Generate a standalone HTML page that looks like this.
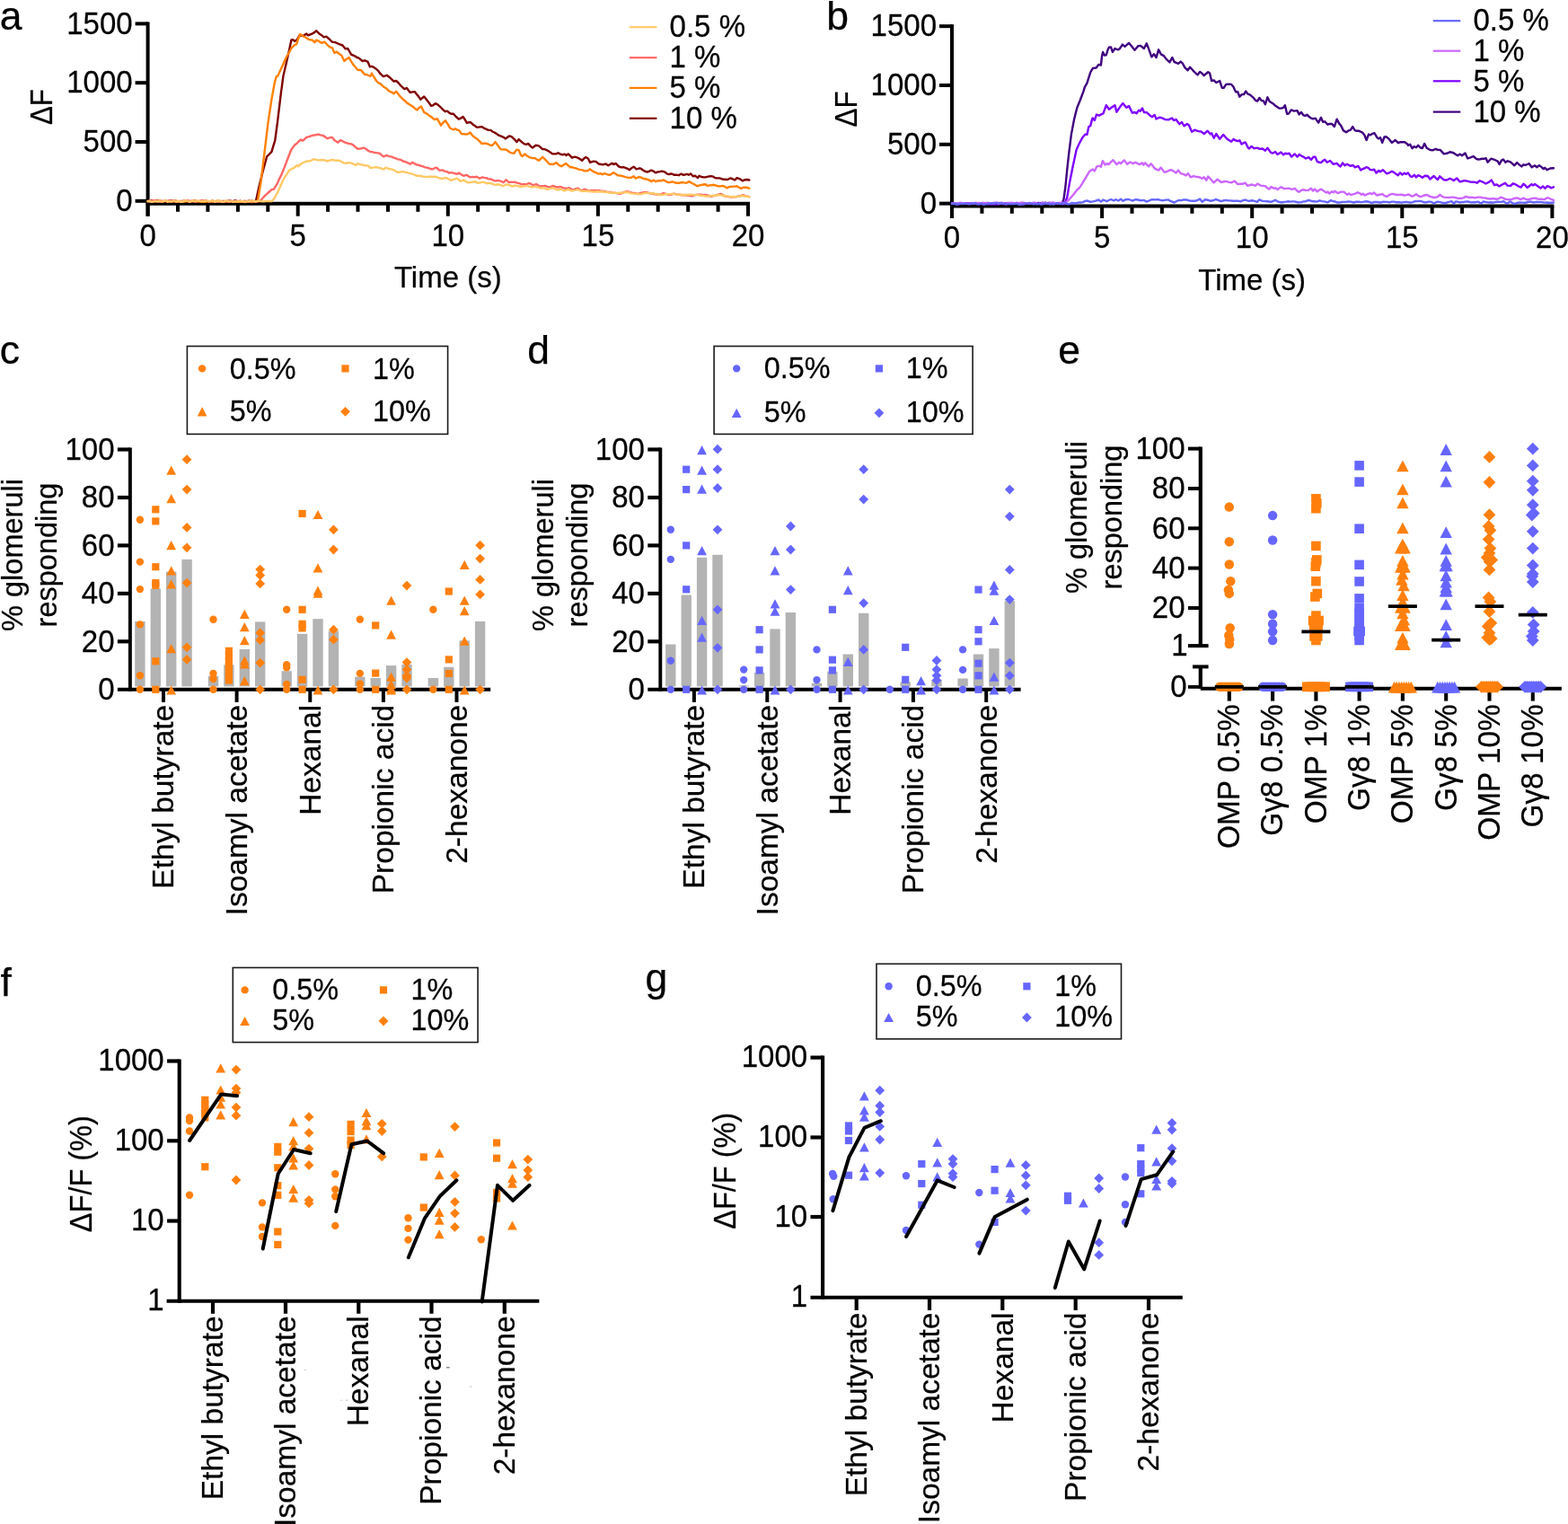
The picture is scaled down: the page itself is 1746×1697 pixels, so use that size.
<!DOCTYPE html>
<html lang="en">
<head>
<meta charset="utf-8">
<title>Odor-evoked glomerular responses</title>
<style>
html,body{margin:0;padding:0;background:#fff;}
body{width:1746px;height:1697px;overflow:hidden;}
svg{display:block;}
svg text{font-family:'Liberation Sans', sans-serif;fill:#000;stroke:#000;stroke-width:0.25px;stroke-linejoin:round;}
</style>
</head>
<body>
<svg width="1746" height="1697" viewBox="0 0 1746 1697" role="img" aria-label="Figure panels a to g: odor-evoked responses">
<rect width="1746" height="1697" fill="#fff"/>
<line x1="164.6" y1="24.4" x2="164.6" y2="240.7" stroke="#000" stroke-width="4" stroke-linecap="butt"/>
<line x1="162.6" y1="226.8" x2="835" y2="226.8" stroke="#000" stroke-width="4" stroke-linecap="butt"/>
<line x1="150.6" y1="223.8" x2="164.6" y2="223.8" stroke="#000" stroke-width="4" stroke-linecap="butt"/>
<text transform="translate(147.6 235) scale(1 1.05)" font-size="33" text-anchor="end">0</text>
<line x1="150.6" y1="158" x2="164.6" y2="158" stroke="#000" stroke-width="4" stroke-linecap="butt"/>
<text transform="translate(147.6 169.2) scale(1 1.05)" font-size="33" text-anchor="end">500</text>
<line x1="150.6" y1="92.2" x2="164.6" y2="92.2" stroke="#000" stroke-width="4" stroke-linecap="butt"/>
<text transform="translate(147.6 103.4) scale(1 1.05)" font-size="33" text-anchor="end">1000</text>
<line x1="150.6" y1="26.4" x2="164.6" y2="26.4" stroke="#000" stroke-width="4" stroke-linecap="butt"/>
<text transform="translate(147.6 37.6) scale(1 1.05)" font-size="33" text-anchor="end">1500</text>
<line x1="164.6" y1="226.8" x2="164.6" y2="240.7" stroke="#000" stroke-width="4" stroke-linecap="butt"/>
<text transform="translate(164.6 273.5) scale(1 1.05)" font-size="33" text-anchor="middle">0</text>
<line x1="198" y1="226.8" x2="198" y2="235.8" stroke="#000" stroke-width="4" stroke-linecap="butt"/>
<line x1="231.4" y1="226.8" x2="231.4" y2="235.8" stroke="#000" stroke-width="4" stroke-linecap="butt"/>
<line x1="264.9" y1="226.8" x2="264.9" y2="235.8" stroke="#000" stroke-width="4" stroke-linecap="butt"/>
<line x1="298.3" y1="226.8" x2="298.3" y2="235.8" stroke="#000" stroke-width="4" stroke-linecap="butt"/>
<line x1="331.7" y1="226.8" x2="331.7" y2="240.7" stroke="#000" stroke-width="4" stroke-linecap="butt"/>
<text transform="translate(331.7 273.5) scale(1 1.05)" font-size="33" text-anchor="middle">5</text>
<line x1="365.1" y1="226.8" x2="365.1" y2="235.8" stroke="#000" stroke-width="4" stroke-linecap="butt"/>
<line x1="398.5" y1="226.8" x2="398.5" y2="235.8" stroke="#000" stroke-width="4" stroke-linecap="butt"/>
<line x1="432" y1="226.8" x2="432" y2="235.8" stroke="#000" stroke-width="4" stroke-linecap="butt"/>
<line x1="465.4" y1="226.8" x2="465.4" y2="235.8" stroke="#000" stroke-width="4" stroke-linecap="butt"/>
<line x1="498.8" y1="226.8" x2="498.8" y2="240.7" stroke="#000" stroke-width="4" stroke-linecap="butt"/>
<text transform="translate(498.8 273.5) scale(1 1.05)" font-size="33" text-anchor="middle">10</text>
<line x1="532.2" y1="226.8" x2="532.2" y2="235.8" stroke="#000" stroke-width="4" stroke-linecap="butt"/>
<line x1="565.6" y1="226.8" x2="565.6" y2="235.8" stroke="#000" stroke-width="4" stroke-linecap="butt"/>
<line x1="599.1" y1="226.8" x2="599.1" y2="235.8" stroke="#000" stroke-width="4" stroke-linecap="butt"/>
<line x1="632.5" y1="226.8" x2="632.5" y2="235.8" stroke="#000" stroke-width="4" stroke-linecap="butt"/>
<line x1="665.9" y1="226.8" x2="665.9" y2="240.7" stroke="#000" stroke-width="4" stroke-linecap="butt"/>
<text transform="translate(665.9 273.5) scale(1 1.05)" font-size="33" text-anchor="middle">15</text>
<line x1="699.3" y1="226.8" x2="699.3" y2="235.8" stroke="#000" stroke-width="4" stroke-linecap="butt"/>
<line x1="732.7" y1="226.8" x2="732.7" y2="235.8" stroke="#000" stroke-width="4" stroke-linecap="butt"/>
<line x1="766.2" y1="226.8" x2="766.2" y2="235.8" stroke="#000" stroke-width="4" stroke-linecap="butt"/>
<line x1="799.6" y1="226.8" x2="799.6" y2="235.8" stroke="#000" stroke-width="4" stroke-linecap="butt"/>
<line x1="833" y1="226.8" x2="833" y2="240.7" stroke="#000" stroke-width="4" stroke-linecap="butt"/>
<text transform="translate(833 273.5) scale(1 1.05)" font-size="33" text-anchor="middle">20</text>
<text x="498.8" y="319.5" font-size="33" text-anchor="middle">Time (s)</text>
<text transform="translate(58.4 119.1) rotate(-90) scale(1 1.06)" font-size="33" text-anchor="middle" textLength="40" lengthAdjust="spacingAndGlyphs">ΔF</text>
<text x="-0.2" y="32.8" font-size="44.5" text-anchor="start">a</text>
<path d="M164.6 224L166.6 223.6L168.6 223.4L170.6 223.9L172.6 223.5L174.6 223.4L176.6 223.9L178.6 224.6L180.6 224.5L182.6 224.4L184.7 223.6L186.7 224.1L188.7 223.7L190.7 223.5L192.7 223.5L194.7 223.6L196.7 224.7L198.7 224.5L200.7 224.5L202.7 224.5L204.7 223.6L206.7 223.8L208.7 224.3L210.7 224.4L212.7 224.6L214.7 224.6L216.7 223.5L218.7 224.2L220.7 224.3L222.7 224.1L224.8 223.6L226.8 224.1L228.8 223.5L230.8 224.8L232.8 224.7L234.8 224.2L236.8 223.8L238.8 224.7L240.8 224.2L242.8 224.7L244.8 224.6L246.8 224.1L248.8 224L250.8 224.3L252.8 224L254.8 223.6L256.8 223.8L258.8 224.6L260.8 223.5L262.9 223.5L264.9 224.3L266.9 223.8L268.9 224.2L270.9 224.1L272.9 223.9L274.9 224.9L276.9 223.7L278.9 224L280.9 223.7L282.9 224.4L284.9 224.2L288.1 209.3L290.7 198.7L293.3 188.5L297.2 174.3L300.5 171L302.4 169.1L306.3 156.1L308.9 136.7L312.8 104.3L315.4 84.8L319.3 68L322.5 53.7L324.4 44.6L325.7 44L328.3 45.9L330.9 44L333.5 39.4L337.4 40.1L341.3 37.5L343.2 39.4L345.5 38.3L347.8 37.5L350.1 36.1L352.3 34.3L356.2 38.1L358.5 39.6L360.7 41.4L363.3 40.7L367.2 44L369.8 46.6L373.7 47.2L377.6 49.2L381.5 50.5L384.7 54.4L387.3 54L391.2 60.8L393.2 61.5L395.3 62.6L397.5 64L399.6 64.7L403.5 68L406.1 67.3L409.4 68.6L412 74.4L413.9 73.8L416.5 75.1L419.1 77L421.4 79.2L423.6 82.2L426.9 85.1L430.8 83.8L434.6 86.8L438.5 90.7L441.1 90L443.4 92L445.7 94.8L447.9 96.9L450.2 99.1L452.8 98L456.7 103L459.3 102.4L461.9 102.3L464 105L466.2 107.6L468.4 110.7L472.2 107.5L474.8 110.7L477.4 114L480 117.8L482.1 117.3L484.8 115.2L487.2 116.3L489.5 118.3L491.7 120.5L493.8 122.6L495.9 124.2L498 123.6L500.2 125.6L502.3 126.8L504.9 126.8L507.8 130L510.8 132.7L513.1 131.7L515.5 130L517.7 133L519.8 136.9L521.9 136.3L524 136.2L526.5 138.5L529 140.2L531.4 141.9L534.1 141.4L536.7 141.1L539 142.8L541.3 143.7L543.6 144.9L546.3 144.9L548.4 146.5L550.5 147.5L552.9 148.9L555.3 150.7L558.5 151.8L560.6 152.8L562.7 154.4L564.9 152.9L567 151.4L569.6 152.1L572.5 154.8L575.5 158.1L577.6 155.1L580.5 157.6L583.4 160.2L586.1 160.8L588.2 159.9L590.6 162.6L593 164.5L596.7 161.8L599.9 162.4L602 164.1L604.1 166.1L606.2 166.1L608.5 167L610.7 168.3L613 169.7L615.2 171.4L619 171.4L621.6 170.3L624 171.6L626.4 172.4L628.5 171.6L630.6 173L632.7 171.4L634.9 173.4L637 175.6L640.2 174.6L643.3 175.6L645.7 177L648.1 178.8L650.2 176.6L652.4 175.1L655 176.7L657.1 180.9L660.8 179.6L663.5 179.9L666.7 182.5L669.3 183L672 183.2L674.6 182.5L677.3 184.3L679.4 183L681.5 181.8L683.1 183L685.8 182L688.9 185.4L691.6 186.4L694.2 186.2L696.5 186.9L698.8 187.8L701.1 189.2L703.4 187L705.7 185.7L708.6 188.3L712.3 187.3L714.4 188.2L716.5 189.9L718.6 191L721.3 191.5L725 189.6L727.7 190.7L730.3 192.4L732.4 191.4L734.6 191.2L736.7 190.7L738.8 191L740.9 191.8L743 193.6L745.2 194.2L747.3 193.4L750.5 194.7L753.1 194.6L755.8 195.2L758.4 193.6L761.1 194.9L763.2 194.4L765.3 193.9L766.9 194.7L769 193.4L771.7 196.3L774.3 195.8L777 198.1L778.6 195.8L781.2 197L783.3 197.4L785.5 197.4L788.4 196.6L791.3 196.1L794 196.6L796.1 198L798.2 198.4L801.4 198.4L803.5 199.1L805.6 199.8L807.7 199.7L809.9 200L813.6 198.4L816 199.4L818.3 200.5L820.5 198.1L823.7 199.2L826.8 201.3L829.5 200.2L832.1 200L834.3 200.5" fill="none" stroke="#800000" stroke-width="2.4" stroke-linejoin="round" stroke-linecap="round"/>
<path d="M164.6 224.2L166.6 223.8L168.6 224.3L170.6 224L172.6 224.4L174.6 224.4L176.6 223.6L178.6 223.5L180.6 224.7L182.6 223.9L184.6 223.8L186.6 225L188.6 224.2L190.7 224.7L192.7 224.2L194.7 224.4L196.7 223.7L198.7 224.4L200.7 224.8L202.7 224.3L204.7 224.6L206.7 224.5L208.7 223.6L210.7 224.6L212.7 224.4L214.7 223.9L216.7 223.5L218.7 224.8L220.7 224.2L222.7 224.6L224.7 224.8L226.7 224.6L228.7 224.9L230.7 224.1L232.7 224.7L234.7 224.2L236.7 224.9L238.8 224.8L240.8 223.7L242.8 223.7L244.8 223.8L246.8 225L248.8 224.2L250.8 224.5L252.8 224L254.8 224.3L256.8 224.1L258.8 224.1L260.8 224.4L262.8 224.4L264.8 224.9L266.8 224.6L268.8 224.9L270.8 224.8L272.8 225L274.8 224.6L276.8 223.8L278.8 224.8L280.8 225L282.8 224.9L284.8 224.4L286.9 224.3L290.7 201.5L294.6 169.1L298.5 136.7L302.4 110.7L305.7 92.6L307.6 85.5L309.5 84.2L312.8 77L314.9 72.5L317.1 67.3L319.3 62.8L321.9 58.5L324.4 53.7L328.3 49.8L330.3 49.2L332.2 42.7L334.2 38.1L336.4 39.5L338.7 40.7L341.3 42.2L343.9 44L347.8 44.6L350.4 47.2L352.3 44.6L355.2 45.9L358.2 47.9L361.4 46.6L364.3 49.8L367.2 52.4L369.8 53.1L372.4 58.9L375 57.6L377.6 60L380.2 61.5L383.4 68L386 65.7L388.6 64.1L390.9 68.2L393.2 71.9L395.8 74.7L398.3 77.7L402.2 78.3L406.1 82.9L408.3 83.2L410.4 84L412.6 84.8L413.9 81.6L416.5 86L419.1 90L421.2 92.1L423.4 93.1L425.6 95.2L427.7 97L429.9 98.2L432.1 100.4L434.2 101.9L436.4 102.8L438.5 104.3L441.1 101.7L443.7 105L446.3 108.2L448.9 110.7L451.1 112.5L453.2 114.7L455.4 115.9L457.7 117.4L459.9 118.8L462.2 120.9L464.5 122.4L466.7 120L469 118.5L472.2 125L474.8 126.4L477.4 128.3L480 130L483.7 133.2L486.9 132.1L489 135.9L491.1 139.6L493.5 136.6L495.9 134.2L498.6 138.1L501.2 142.7L504.4 144.3L507 143.3L509.2 144.7L511.3 145.4L513.9 149.1L516.6 149.2L519.2 149.6L521.4 149L523.5 147.5L525.6 150.3L527.7 152.3L530.9 154.4L533.6 156.9L536.2 159.7L538.9 159.7L541.5 159.7L544.2 160.9L546.8 162L548.9 161.3L551.6 158.1L554.2 161.8L557.4 166.1L559.6 166.4L561.7 166.5L563.8 166.6L565.9 168.2L568 169.8L570.2 170.4L572.3 170.8L575.5 166.6L577.6 167.1L580.2 173L581.8 174L584.5 171.4L586.9 173.6L589.3 175.1L591.4 175.6L593.5 176.1L595.6 176.1L597.7 177.4L599.9 178.8L602 177L604.1 174.8L606.6 177.1L609.1 179.8L611.5 182.5L614.7 183L617.1 182.5L619.5 181.1L622.7 184.1L625.3 185.2L627.7 183.6L630.1 182L632.5 184.1L634.9 186.2L637 186L639.1 186.8L641.2 187.4L643.3 188.2L645.5 188.9L648.1 189.1L650.8 190.3L652.9 190.2L655 189.9L657.1 188.3L659.2 190.1L661.4 191.5L663.8 192.2L666.1 193.6L668.8 193.1L670.9 194.2L673 193.1L675.9 194.1L678.9 194.9L681.1 193.5L683.4 192.1L685.7 193.8L687.9 195.2L691.1 195.6L693.2 196L695.3 196.9L697.4 197.4L700.1 197.8L702.7 197.9L705.7 196.3L708 198.7L711.7 197L714.1 197.6L716.5 199L719.7 199.5L722.6 200.4L725.5 202.1L727.7 200.5L729.8 202.1L733 201.1L736.7 201.3L738.8 200.2L741.2 201.8L743.6 203L746 203.1L748.3 202.3L750.5 202.8L752.6 203.7L754.7 203.7L756.8 203.7L759.5 203L761.9 203.4L764.3 203.7L767.4 202.1L770.6 204L773.5 205.5L776.4 207.2L779.1 206.4L781.2 205.9L783.3 205.5L785.5 205.3L787.6 206.9L789.7 206.4L791.8 206.3L794 205.8L796.1 206.2L798.2 206.8L800.3 207.4L802.4 207.4L804.6 206.9L806.9 207.7L809.3 209.3L812 208L814.6 207.9L817.3 207.6L820.5 207.2L822.9 208.7L825.2 209.8L827.9 208.7L830 208.8L832.1 209L834.3 209.6" fill="none" stroke="#FF8000" stroke-width="2.4" stroke-linejoin="round" stroke-linecap="round"/>
<path d="M164.6 223.9L166.6 224.6L168.6 224.6L170.6 223.2L172.7 223.3L174.7 224.4L176.7 224.3L178.7 224.2L180.7 223.6L182.7 224.1L184.7 224.1L186.8 224L188.8 223.4L190.8 223.8L192.8 223.8L194.8 224.3L196.8 224.7L198.8 224.6L200.8 224L202.9 223.9L204.9 223.6L206.9 223.3L208.9 223.2L210.9 223.9L212.9 223.7L214.9 223.8L217 224.6L219 224L221 224.1L223 223.6L225 223.3L227 223.7L229 223.4L231.1 224L233.1 224.7L235.1 224.2L237.1 223.5L239.1 224.6L241.1 224.4L243.1 224.3L245.1 224.6L247.2 224.4L249.2 224.4L251.2 223.8L253.2 224.7L255.2 224.7L257.2 223.5L259.2 224.4L261.3 224.3L263.3 224L265.3 224.1L267.3 224L269.3 224.7L271.3 224L273.3 224.5L275.4 223.8L277.4 224.6L279.4 224.6L281.4 224L283.4 224.1L285.4 224.7L287.4 224.4L289.4 224.1L291.6 221.7L293.8 219.2L295.9 217.1L298.1 215L300.2 213.3L302.4 211.2L305 210.6L308.9 204.1L311.1 199.1L313.2 194.9L315.4 189.8L319.3 179.5L321.9 172.8L324.4 166.5L328.3 161.3L330.5 159.7L332.7 157.3L334.8 155.5L336.8 156.8L339 155.2L341.3 152.9L343.5 152.4L345.6 151.6L347.8 150.9L349.9 150.5L352.1 150.2L354.3 149.6L356.9 150.4L359.5 150.9L362 152.4L364.6 154.2L367.2 153.3L369.8 152.9L372.4 156.1L376.3 158.7L378.9 156.1L381.5 157.2L384.1 158.6L386.7 159.4L388.8 160.1L391 160.3L393.2 161.3L395.8 163.8L398.3 165.8L400.5 165.6L402.7 165.3L404.8 164.5L407.4 165.8L410 167.8L412.6 169.1L414.7 169.1L416.8 170L418.8 170.1L420.9 170.4L423 171L426.9 174.3L430.8 173L433.3 174.1L435.9 174.4L438.5 175.6L440.7 176.3L442.9 177.4L445 177.6L447.2 178.4L449.3 179.7L451.5 180.1L454.1 181.3L456.7 182.7L459.3 180.8L461.9 182.4L464.5 183.6L466.5 183.8L468.6 184.7L470.7 185.1L472.8 186.1L474.8 186.6L477.4 187.1L480 188.3L482.1 188.2L484.2 186.9L486.4 186.8L489.5 189.9L492.7 189.4L495.2 190.6L497.7 191.1L500.2 192.6L502.8 192.1L505.7 192.8L508.6 193.9L511.3 192.6L513.7 194.4L516.1 195.8L519.2 194.9L521.4 195.9L523.5 197.4L526 196.9L528.4 197.2L530.9 196.8L534.1 198.7L537.3 197.4L539.4 197.9L541.5 198.2L543.6 199.2L546.8 199.5L549.5 200.9L552.1 201.6L554.2 200.9L556.4 201.4L558.5 202L560.6 203.2L563.8 200.2L566.4 203L568.7 202.8L571 202.9L573.3 202.7L575.8 203.7L578.3 204.1L580.8 205.3L583.4 205.2L586.1 205.3L588.7 204L591.1 204.7L593.5 206.2L597.2 205.1L600.9 207.4L603 207.2L605.2 207.3L607.3 206.9L609.4 207.8L611.5 208.3L613.6 207.9L615.8 206.9L618.4 207.9L621.1 208.5L624.3 208L626.9 209.2L629.6 209.8L631.7 209.7L633.8 209.3L635.9 210.4L638 211.5L640.7 210.3L643.3 209.6L645.5 211L647.6 212.2L650.8 210.6L652.9 211.4L655 212.5L657.5 212L659.9 212.1L662.4 211.9L664.5 212.4L666.7 212L668.8 212.6L670.9 212.7L673.4 213.1L675.9 213.6L678.3 214L680.5 214L682.6 214.9L684.7 214.6L686.8 215.1L688.9 215.5L691.1 215.7L694 214.4L696.9 213.3L699.2 213.3L701.5 214.2L703.8 214.6L705.9 214.9L708 215.3L710.2 216.1L712.3 215.2L714.4 214.8L716.5 214.2L718.6 214L720.8 214.5L722.9 214.9L725 215.7L727.1 215.7L729.2 216.3L731.4 216.6L733.5 216.3L735.6 216.8L738.8 215.1L740.9 215.7L743 216.3L745.2 217.2L747.8 216.5L750.5 215.7L752.6 216.2L754.7 216.7L756.8 216.8L759.3 217.2L761.8 217.1L764.3 217.5L766.4 217.7L768.5 218L770.6 218.3L772.7 217.4L774.9 216.9L777 216.8L779.1 216.8L781.2 216.6L783.3 217.1L785.5 217L787.6 217.4L789.7 217.9L791.8 218.9L794.5 218.1L797.1 217.8L799.8 216.7L802.4 215.9L804.6 216.9L806.7 218.3L809.2 218.7L811.6 219.1L814.1 219.6L816.2 219.3L818.3 219.4L820.5 219.1L822.8 218.2L825.1 218L827.4 217L829.7 218.1L832 218.6L834.3 219.1" fill="none" stroke="#FF6666" stroke-width="2.4" stroke-linejoin="round" stroke-linecap="round"/>
<path d="M164.6 224.2L166.6 223.6L168.7 224.7L170.7 224.6L172.7 223.8L174.7 224.2L176.8 224.1L178.8 224.4L180.8 224.6L182.8 223.6L184.9 223.5L186.9 224.7L188.9 224.1L190.9 224.6L193 223.4L195 224.1L197 224.5L199.1 223.8L201.1 224.8L203.1 224.8L205.1 223.5L207.2 223.4L209.2 224.2L211.2 224.8L213.2 224L215.3 223.7L217.3 224L219.3 223.4L221.3 223.7L223.4 224L225.4 224.1L227.4 223.7L229.5 223.7L231.5 223.7L233.5 224.1L235.5 223.8L237.6 223.4L239.6 224.6L241.6 224.2L243.6 224.3L245.7 223.6L247.7 224.9L249.7 224.6L251.7 223.5L253.8 223.9L255.8 224.4L257.8 224.4L259.9 224.8L261.9 224L263.9 224.6L265.9 224.3L268 223.8L270 224.2L272 224.7L274 224.6L276.1 224.1L278.1 224.2L280.1 223.4L282.1 223.7L284.2 224.5L286.2 223.9L288.2 223.6L290.3 224.1L292.3 224.4L294.3 224.3L296.3 223.9L298.4 224L300.4 224.1L302.4 224.1L305 221.6L308.9 214.5L311.1 209.9L313.2 205L315.4 200.2L317.5 196.7L319.7 193.3L321.9 189.8L324.4 188.2L327 187.2L330.9 184L332.2 185.3L334.8 182.7L337 181.3L339.1 180.7L341.3 179.5L343.9 179.5L346.5 178.8L349.7 177.1L352 177.8L354.3 178.4L356.4 178.3L358.6 178L360.7 178.2L364.6 179.5L367.2 178.7L369.8 177.9L372.4 178.5L375 178.7L377.6 178.8L380.2 180.1L382.8 181.4L385.4 181.7L388 181.2L390.6 181.4L393.5 182.7L396.4 184L398.3 182.1L400.5 183L402.7 183.4L404.8 184L407.4 184.3L410 184.6L412.6 187.2L414.8 186.6L416.9 186.4L419.1 185.9L421.2 186.9L423.3 186.9L425.4 188.1L427.5 188.5L429.5 186.6L431.7 187.5L434 188.2L436.3 188.7L438.5 189.2L442.4 191.8L444.6 191.8L446.7 191.4L448.9 191.1L451.5 191.8L454.1 192.4L456.7 193.1L459.3 193.7L461.9 195L464.2 195.7L466.5 195.8L468.9 196L471.2 196.6L473.5 197L475.7 196.9L477.8 196.8L480 196.8L482.7 196.7L485.3 196.8L487.4 197.6L489.5 198.3L491.7 199L494.1 198.5L496.4 197.9L499.4 199.3L502.3 200.9L504.4 199.8L506.5 199.3L508.6 198.7L510.8 200.1L512.9 201.9L516.1 200.5L518.5 201.9L520.8 203.2L523.5 203.1L526.1 202.7L528.8 202.1L531.4 203.7L533.6 203.6L535.7 203.2L537.8 202.7L540.2 203.3L542.6 204.3L545.8 203.7L547.9 204.7L550 205.3L552.1 205.8L555.3 205.3L557.7 206L560.1 207.2L563.8 205.3L566.1 205.8L568.4 206.5L570.7 207.6L573.3 206.4L575.5 207.1L577.6 207.3L579.7 208L582.2 207.3L584.7 207.3L587.1 206.9L589.3 207.6L591.4 208.5L594 207.9L596.7 208L599.3 208.5L602 209.6L605.2 209L608.9 210.8L611.2 210.4L613.5 209.6L615.8 209.3L617.9 210.2L620 211.5L622.1 211.2L624.3 210.6L626.4 211.5L628.5 212.5L630.6 211.6L632.7 210.8L634.9 211.8L637 212.7L639.1 211.9L641.2 211.6L643.3 211.1L645.5 212L647.6 213L649.7 212.6L651.8 212.7L655 213L657.1 212.8L659.2 213.6L661.4 213.4L663.5 213.6L666 213.3L668.4 213.5L670.9 213.3L673.4 214L675.9 213.9L678.3 214.6L680.5 214.4L682.6 214.6L684.7 215.1L686.8 215.1L688.9 214.6L691.1 214.8L693.2 214.6L695.3 214.3L697.4 214L699.5 214.2L701.7 215.1L703.8 215.4L705.9 215.6L708 215.9L710.2 215.8L712.3 216.2L714.4 216.1L716.5 215.4L718.6 214.9L720.8 215.1L722.9 215.1L725 215.5L727.1 215.2L729.2 215.7L731.9 216.2L734.6 217L736.7 217.1L738.8 216.8L740.9 216.2L743 216.1L745.5 216.3L748 215.9L750.5 215.9L752.6 216.5L754.7 216.6L756.8 216.6L758.9 216.8L761.1 217.2L763.2 216.7L765.3 217.2L767.4 216.5L769.6 216.9L771.7 216.6L773.8 217.1L775.9 217.1L778 217.1L780.2 217.8L782.3 217.8L784.4 218.4L786.5 218.5L788.6 218.6L790.8 218.3L792.9 218L795.3 217.7L797.7 217.5L800.1 217.2L802.4 217.2L805.1 217.8L807.7 218.3L809.9 218.6L812 218.7L814.1 219.3L816.6 218.9L819.1 219.1L821.5 218.9L824.2 218.3L826.8 218L829.3 218.5L831.8 218.8L834.3 219.3" fill="none" stroke="#FFC966" stroke-width="2.4" stroke-linejoin="round" stroke-linecap="round"/>
<line x1="700.9" y1="30.2" x2="731.4" y2="30.2" stroke="#FFC966" stroke-width="2.2" stroke-linecap="butt"/>
<text transform="translate(745.6 41.4) scale(1 1.05)" font-size="33" text-anchor="start">0.5 %</text>
<line x1="700.9" y1="64.2" x2="731.4" y2="64.2" stroke="#FF6666" stroke-width="2.2" stroke-linecap="butt"/>
<text transform="translate(745.6 75.4) scale(1 1.05)" font-size="33" text-anchor="start">1 %</text>
<line x1="700.9" y1="97.9" x2="731.4" y2="97.9" stroke="#FF8000" stroke-width="2.2" stroke-linecap="butt"/>
<text transform="translate(745.6 109.1) scale(1 1.05)" font-size="33" text-anchor="start">5 %</text>
<line x1="700.9" y1="131.8" x2="731.4" y2="131.8" stroke="#800000" stroke-width="2.2" stroke-linecap="butt"/>
<text transform="translate(745.6 143) scale(1 1.05)" font-size="33" text-anchor="start">10 %</text>
<line x1="1060" y1="27.2" x2="1060" y2="243" stroke="#000" stroke-width="4" stroke-linecap="butt"/>
<line x1="1058" y1="229.6" x2="1730.4" y2="229.6" stroke="#000" stroke-width="4" stroke-linecap="butt"/>
<line x1="1046" y1="226.6" x2="1060" y2="226.6" stroke="#000" stroke-width="4" stroke-linecap="butt"/>
<text transform="translate(1043 237.8) scale(1 1.05)" font-size="33" text-anchor="end">0</text>
<line x1="1046" y1="160.8" x2="1060" y2="160.8" stroke="#000" stroke-width="4" stroke-linecap="butt"/>
<text transform="translate(1043 172) scale(1 1.05)" font-size="33" text-anchor="end">500</text>
<line x1="1046" y1="95" x2="1060" y2="95" stroke="#000" stroke-width="4" stroke-linecap="butt"/>
<text transform="translate(1043 106.2) scale(1 1.05)" font-size="33" text-anchor="end">1000</text>
<line x1="1046" y1="29.2" x2="1060" y2="29.2" stroke="#000" stroke-width="4" stroke-linecap="butt"/>
<text transform="translate(1043 40.4) scale(1 1.05)" font-size="33" text-anchor="end">1500</text>
<line x1="1060" y1="229.6" x2="1060" y2="243" stroke="#000" stroke-width="4" stroke-linecap="butt"/>
<text transform="translate(1060 276.3) scale(1 1.05)" font-size="33" text-anchor="middle">0</text>
<line x1="1093.4" y1="229.6" x2="1093.4" y2="237.8" stroke="#000" stroke-width="4" stroke-linecap="butt"/>
<line x1="1126.8" y1="229.6" x2="1126.8" y2="237.8" stroke="#000" stroke-width="4" stroke-linecap="butt"/>
<line x1="1160.3" y1="229.6" x2="1160.3" y2="237.8" stroke="#000" stroke-width="4" stroke-linecap="butt"/>
<line x1="1193.7" y1="229.6" x2="1193.7" y2="237.8" stroke="#000" stroke-width="4" stroke-linecap="butt"/>
<line x1="1227.1" y1="229.6" x2="1227.1" y2="243" stroke="#000" stroke-width="4" stroke-linecap="butt"/>
<text transform="translate(1227.1 276.3) scale(1 1.05)" font-size="33" text-anchor="middle">5</text>
<line x1="1260.5" y1="229.6" x2="1260.5" y2="237.8" stroke="#000" stroke-width="4" stroke-linecap="butt"/>
<line x1="1293.9" y1="229.6" x2="1293.9" y2="237.8" stroke="#000" stroke-width="4" stroke-linecap="butt"/>
<line x1="1327.4" y1="229.6" x2="1327.4" y2="237.8" stroke="#000" stroke-width="4" stroke-linecap="butt"/>
<line x1="1360.8" y1="229.6" x2="1360.8" y2="237.8" stroke="#000" stroke-width="4" stroke-linecap="butt"/>
<line x1="1394.2" y1="229.6" x2="1394.2" y2="243" stroke="#000" stroke-width="4" stroke-linecap="butt"/>
<text transform="translate(1394.2 276.3) scale(1 1.05)" font-size="33" text-anchor="middle">10</text>
<line x1="1427.6" y1="229.6" x2="1427.6" y2="237.8" stroke="#000" stroke-width="4" stroke-linecap="butt"/>
<line x1="1461" y1="229.6" x2="1461" y2="237.8" stroke="#000" stroke-width="4" stroke-linecap="butt"/>
<line x1="1494.5" y1="229.6" x2="1494.5" y2="237.8" stroke="#000" stroke-width="4" stroke-linecap="butt"/>
<line x1="1527.9" y1="229.6" x2="1527.9" y2="237.8" stroke="#000" stroke-width="4" stroke-linecap="butt"/>
<line x1="1561.3" y1="229.6" x2="1561.3" y2="243" stroke="#000" stroke-width="4" stroke-linecap="butt"/>
<text transform="translate(1561.3 276.3) scale(1 1.05)" font-size="33" text-anchor="middle">15</text>
<line x1="1594.7" y1="229.6" x2="1594.7" y2="237.8" stroke="#000" stroke-width="4" stroke-linecap="butt"/>
<line x1="1628.1" y1="229.6" x2="1628.1" y2="237.8" stroke="#000" stroke-width="4" stroke-linecap="butt"/>
<line x1="1661.6" y1="229.6" x2="1661.6" y2="237.8" stroke="#000" stroke-width="4" stroke-linecap="butt"/>
<line x1="1695" y1="229.6" x2="1695" y2="237.8" stroke="#000" stroke-width="4" stroke-linecap="butt"/>
<line x1="1728.4" y1="229.6" x2="1728.4" y2="243" stroke="#000" stroke-width="4" stroke-linecap="butt"/>
<text transform="translate(1728.4 276.3) scale(1 1.05)" font-size="33" text-anchor="middle">20</text>
<text x="1394.2" y="322.5" font-size="33" text-anchor="middle">Time (s)</text>
<text transform="translate(953.5 121.5) rotate(-90) scale(1 1.06)" font-size="33" text-anchor="middle" textLength="40" lengthAdjust="spacingAndGlyphs">ΔF</text>
<text x="920.2" y="32.6" font-size="44.5" text-anchor="start">b</text>
<path d="M1060 226.6L1062 226L1064 226.9L1066 226.8L1068 227.2L1070 226.2L1072 226.2L1074.1 226.9L1076.1 226.8L1078.1 226.3L1080.1 226.8L1082.1 226.4L1084.1 227L1086.1 226L1088.1 226.1L1090.1 227.2L1092.1 226.3L1094.1 226.2L1096.1 227L1098.2 226.7L1100.2 226L1102.2 226.6L1104.2 226.8L1106.2 226L1108.2 226.7L1110.2 225.9L1112.2 226.3L1114.2 225.9L1116.2 226.1L1118.2 227.2L1120.2 226.4L1122.3 227.2L1124.3 226.4L1126.3 226.6L1128.3 227L1130.3 226.8L1132.3 225.9L1134.3 226.6L1136.3 226.7L1138.3 226L1140.3 225.9L1142.3 227L1144.3 226.5L1146.4 226L1148.4 226.4L1150.4 226L1152.4 226.9L1154.4 226.4L1156.4 225.8L1158.4 226.9L1160.4 225.8L1162.4 226.1L1164.4 225.7L1166.4 226.8L1168.4 225.8L1170.5 226.4L1172.5 225.8L1174.5 226.4L1176.5 226.7L1178.5 226.4L1180.5 226.3L1182.5 226.4L1184.4 222.2L1186.4 208L1188.3 188.5L1190.3 170.4L1192.9 149.6L1196.1 132.8L1199.4 119.8L1202.6 112L1206.5 101.7L1207.8 97.1L1210.4 92.6L1214.3 80.3L1216.9 76L1220.7 75.5L1223.3 71.9L1225.9 72.5L1227 62.8L1228.1 57.9L1229.8 61.5L1231.8 61.2L1233.7 55L1235 52.7L1237 52.4L1238.9 57.9L1241.5 54L1244.7 55.3L1246.7 54.4L1249.9 49.6L1252.5 51.8L1254.8 49.8L1257 47.9L1260.3 51.8L1263.5 55.7L1267.4 51.1L1270 50.9L1273.9 54L1276.8 48.3L1279.1 54.4L1282.3 63.4L1284.9 60.2L1287.5 64.1L1290.1 55.3L1292.7 60.4L1295.9 62.1L1298.5 65.6L1302.4 69.3L1305.3 64.1L1307.6 69L1309.9 69.8L1312.1 70.8L1314.7 68.6L1316.7 70.3L1319.3 75.1L1322.5 78.3L1325.1 74.7L1328.3 78.3L1330.9 81L1333.5 83.5L1336.1 79.9L1338.4 81.6L1340.7 84.2L1342.9 82.2L1345.2 80.3L1347.1 81.6L1349.1 90L1351.7 89.4L1354.3 92L1358.2 90L1360.8 97.8L1362.7 97.8L1365.3 93.9L1368.2 93.6L1371.1 93.9L1373.7 97.1L1375 100.3L1376.1 102.4L1378.2 102.2L1380.3 107.7L1383 105.1L1385.1 105.1L1387.2 101.6L1389.3 104.5L1392 105.6L1395.2 108.3L1398.3 112L1400.2 112.5L1402.4 109L1404.7 112L1406.8 112.2L1408.9 116.2L1411.4 108.3L1413.7 113L1417.4 115.2L1420.6 118.1L1424.3 120.5L1426.7 120.6L1429.1 119.9L1430.9 117.3L1433.1 126.8L1434.9 126.6L1437.8 122.4L1440.8 123.6L1444.5 123.1L1446.6 127.4L1449 124.9L1451.4 128.4L1453.5 128.9L1455.6 127.7L1457.7 130.1L1459.9 131.6L1462 132.3L1464.6 131.6L1468.1 136.6L1471 130.9L1473.1 135.8L1475.2 135.3L1478.4 138.7L1480.8 137.9L1483.2 138L1485.8 141.1L1488.7 132.7L1491.1 137.4L1493.3 140.1L1495.9 145.4L1499.1 147.2L1501.5 145.6L1503.9 144.6L1506.2 141.1L1508.9 145.4L1510.9 145.7L1512.9 145.7L1515 146.7L1517.1 147.5L1519.3 150.2L1521.6 156L1524 149.6L1526.1 150.4L1528.3 148.8L1530.4 148.2L1533.6 153.3L1535.2 154.4L1537 153.1L1539.2 158.9L1541.5 152.5L1543.7 152.3L1546.8 154.9L1550 158.9L1553.7 156L1556.9 159.2L1559.5 158.1L1561.7 158.3L1563.8 158.1L1567 160.2L1568 161.8L1570.2 160.8L1572.5 165.2L1574.6 163.1L1577 164.2L1579.2 161.8L1581.8 164.5L1583.9 165L1586.1 159.9L1588.7 164.8L1590.8 166.1L1593 167.1L1595.1 167.3L1598.8 165.9L1600.9 166.9L1603.6 166.9L1605.7 169.1L1607.8 171.4L1611 170.8L1614.5 169.3L1616.7 169.7L1618.9 170.5L1621.1 172L1623.2 173.3L1625.5 171.6L1628 173.3L1631.5 170.5L1634.3 176.5L1638 175.1L1640.7 174L1643.9 176.9L1646 177.5L1648.1 177.2L1650.2 176.8L1652.4 176.9L1654.5 176.1L1656.6 180.7L1660.3 176.7L1663.5 177.7L1665.6 178.5L1667.7 179.6L1669.6 183L1672 178.6L1673.9 177.5L1676.4 180.9L1678.6 179.3L1680.6 179.8L1682.6 180.9L1686.3 184.3L1689.2 181.1L1691.7 183.4L1694.3 185.4L1696.4 183.3L1698.5 183.9L1700.6 183L1702.7 182.2L1705.7 186.2L1709.1 184.3L1711.2 186.2L1713.9 184.1L1716.3 185.9L1718.7 188.1L1720.2 186.8L1722.7 189.2L1726.1 187.5L1730 187.3" fill="none" stroke="#400080" stroke-width="2.4" stroke-linejoin="round" stroke-linecap="round"/>
<path d="M1060 226.8L1062 226.4L1064.1 227.1L1066.1 227.1L1068.1 227.3L1070.1 226.3L1072.2 226.4L1074.2 226.2L1076.2 226.4L1078.3 227.1L1080.3 226.2L1082.3 226.8L1084.3 226.3L1086.4 226.4L1088.4 226.6L1090.4 227.2L1092.4 226.9L1094.5 226L1096.5 226.4L1098.5 226.2L1100.6 227.3L1102.6 227.2L1104.6 227.2L1106.6 227.2L1108.7 227.1L1110.7 227.4L1112.7 227.1L1114.8 226.3L1116.8 227.2L1118.8 226.6L1120.8 227L1122.9 226.8L1124.9 226.5L1126.9 226.4L1129 226.5L1131 226.4L1133 226.1L1135 227.1L1137.1 227.1L1139.1 227.4L1141.1 226.9L1143.2 226.7L1145.2 227L1147.2 226.1L1149.2 226.9L1151.3 226.5L1153.3 226.1L1155.3 226.1L1157.3 226.6L1159.4 226.2L1161.4 226.5L1163.4 226.7L1165.5 226.4L1167.5 226L1169.5 226.5L1171.5 226.2L1173.6 226.1L1175.6 226.1L1177.6 226.3L1179.7 225.9L1181.7 226.8L1183.7 227.2L1185.7 226.5L1188.3 219.6L1190.9 204.1L1194.8 184.6L1198.7 166.5L1201.3 160.7L1205.2 153.5L1208.4 149.6L1210.4 149.9L1212.3 141.2L1214.3 139.9L1216.2 132.1L1216.9 131.5L1218.8 134.1L1221 127.6L1224 128.6L1226.3 127.4L1228.5 126.3L1231.8 117.2L1235 121.8L1237.6 119.8L1241.5 117.2L1243.4 124.7L1246.7 119.8L1250.3 114.9L1252.4 117.6L1254.5 119.8L1257 117.9L1260.9 125.7L1263.5 125L1265.5 126.3L1268.1 122.7L1269.7 123.7L1272 120.5L1273.9 125L1277.1 125.3L1280.1 128.2L1283 130.2L1285.6 127.9L1287.5 132.5L1289.8 131.2L1292 130.8L1294.6 131.6L1297.2 133L1301.1 133.4L1305 131.5L1307 134.1L1309.5 133L1313.4 138.2L1316 136L1318.6 140.3L1321.9 138L1323.8 139.3L1327.1 146.8L1330.3 144.7L1332.7 145.6L1335 146.2L1337.4 146.4L1340.7 149L1344.6 145.8L1347.8 149.4L1349.1 148.3L1351.7 153.8L1354.3 149L1358.2 154.8L1362.1 149.9L1365.9 154.2L1368.5 156.1L1371.1 157.7L1373.7 154.8L1375 156L1378.2 157.1L1380.3 156.3L1382.6 160.6L1384.7 159.2L1386.7 158.4L1389.8 164.5L1391.1 165.5L1393.6 162.9L1396.2 165.2L1398.3 164.9L1400.5 164.8L1402.8 165.9L1405.8 165.5L1408.9 167.7L1411.4 164.8L1415.3 170.1L1417.4 170.5L1420.1 169L1422.5 171.9L1426.4 169.5L1429.1 172.4L1431.2 170.8L1433.3 171.2L1435.5 170.8L1438.1 174.6L1441.8 171.4L1444.5 174.6L1446.9 171.9L1449.1 173.6L1451.4 174.6L1454 176.5L1457.2 175.1L1459.9 177.9L1462.5 174.8L1464.6 174.8L1466.8 179.9L1468.9 180.8L1471 181.1L1473.1 179.1L1475.2 177.7L1477.7 180.7L1481.1 179L1484.8 182.8L1488.5 181.8L1490.6 183.9L1492.7 185.4L1495.1 181.4L1497.5 184.3L1499.9 182.8L1503.9 184.9L1506.5 183.9L1508.9 186.4L1512.4 184.9L1515.2 189.4L1517.3 188.2L1519.3 187.5L1521.4 186.2L1523.5 186.9L1525.6 188.8L1527.7 189.4L1530.1 188.6L1532.5 192.6L1535.2 189.9L1536.8 191.3L1539.9 189.2L1542.1 191.4L1544.2 193.4L1547.1 192.3L1550 190.7L1553.7 193.1L1556.6 195.2L1559 192.4L1561.5 194.5L1563.8 192.8L1565.9 193.9L1567.8 192.4L1570.7 196.6L1572.5 196.8L1574.9 194.7L1577 197.4L1579.2 195.2L1581.6 196.2L1583.9 197.7L1586.6 195.8L1589.8 196L1592.4 199.5L1594.5 197.8L1596.7 196L1598.8 198.1L1600.9 200L1603.2 196.3L1605.5 198.4L1607.8 200.2L1611 200.5L1614.5 198.7L1616.7 199.8L1618.9 201.1L1622.1 198.4L1625.5 202.3L1627.5 202L1629.6 201.3L1631.7 201.3L1633.8 201.6L1637.5 202.7L1640.2 202.6L1642.8 203L1644.6 203.7L1647.6 201.3L1651.3 202.7L1654.5 204.5L1658.2 202.7L1660.8 200.5L1664 206.2L1666.7 205.5L1669.6 207.4L1671.8 205.9L1673.9 205.1L1676 203.7L1678.6 206.6L1682.1 206.9L1684.7 204.3L1686.8 205L1689 206.2L1691.1 207.6L1693.7 208.5L1696.4 204.8L1698.5 206.5L1700.6 209L1703 207.2L1705.4 205.1L1707 206.4L1709.1 205.1L1711.2 206.6L1713.3 208.1L1715.5 209.6L1718.1 207.4L1720.6 209.8L1722.9 207.2L1725 207.8L1727.1 209.3L1730 208.3" fill="none" stroke="#8000FF" stroke-width="2.4" stroke-linejoin="round" stroke-linecap="round"/>
<path d="M1060 226.5L1062 226.5L1064 226.7L1066 226.7L1068 225.9L1070 225.7L1072 226.3L1074 226.1L1076 226.9L1078.1 226.7L1080.1 226.6L1082.1 226.5L1084.1 226.7L1086.1 225.9L1088.1 226.3L1090.1 225.9L1092.1 227L1094.1 225.7L1096.1 226.9L1098.1 225.7L1100.1 226.7L1102.1 226.1L1104.1 226.2L1106.1 226.9L1108.1 225.6L1110.2 225.7L1112.2 227L1114.2 226.4L1116.2 225.7L1118.2 227.1L1120.2 227L1122.2 225.7L1124.2 226.2L1126.2 225.8L1128.2 226L1130.2 226.5L1132.2 225.8L1134.2 226.6L1136.2 225.6L1138.2 225.8L1140.2 226.7L1142.3 226.1L1144.3 226.1L1146.3 226.4L1148.3 226.2L1150.3 226.1L1152.3 225.5L1154.3 226.6L1156.3 226.9L1158.3 226.9L1160.3 226.5L1162.3 226L1164.3 226L1166.3 226.5L1168.3 226.4L1170.3 225.6L1172.3 225.8L1174.4 226L1176.4 226.2L1178.4 226.6L1180.4 226.1L1182.4 225.4L1184.4 226.6L1186.4 226.1L1188.7 223.8L1190.9 221.6L1193.5 218.7L1196.1 215.8L1199.4 211.2L1201.9 209.3L1205.2 204.1L1209.1 197.6L1213 191.1L1216.9 188.5L1218.8 190.5L1221.4 185.3L1224.6 184.6L1225.9 185.9L1227.9 179.2L1230.5 183.6L1232.4 182.1L1234.4 183.1L1237 180.4L1239.5 178.2L1243.4 183.1L1246 180.8L1248 182.1L1251.9 178.4L1255.1 182.7L1258.3 180.5L1261.6 182.1L1264.2 180.8L1266.4 181.9L1268.7 183.1L1272 181.4L1273.2 183.6L1275.2 181.4L1279.1 185.3L1281.7 182.3L1283.9 185L1286.2 187.9L1290.1 189.6L1292.7 186.6L1296.6 191.8L1299.2 191.2L1301.8 189.7L1304.4 189.2L1307 190.8L1309.5 192.4L1312.1 189.6L1314.7 193.1L1317.7 193.9L1320.6 195.3L1322.9 193.1L1325.8 197.3L1329 196.1L1331.3 196.7L1333.5 197L1336.1 197.5L1338.7 198.9L1340.7 197.3L1343.3 200.8L1345.2 196.6L1347.4 198.7L1349.5 201L1351.7 203.4L1355.6 199.6L1359.5 202.8L1361.6 202.7L1363.8 202L1365.9 202.1L1368.5 202.8L1371.1 203.4L1375 201.6L1378.2 205.1L1380.8 204.7L1383.5 204.8L1386.7 203.7L1389.3 206.9L1391.7 206L1394.1 205.5L1397.8 206.9L1400.2 204.5L1403.6 206.6L1406.3 206.9L1408.9 207.2L1411.1 209.3L1413.2 210.6L1415.5 208L1418.5 209.8L1420.1 209.3L1422.5 211.1L1426.4 208.3L1430.2 210.1L1432.8 209.9L1435.5 209.8L1438.6 210.8L1441.8 209.8L1444.1 212.2L1446.3 213.8L1449.8 211.5L1452.1 211.3L1454.4 212.1L1456.7 211.9L1459.9 209.8L1462 212.5L1464.1 210.6L1466.8 213.3L1468.9 211.8L1471 210.6L1473.9 212.4L1476.8 214.6L1478.4 213.6L1480.2 215.4L1483.2 213.3L1484.8 214.3L1486.4 212.7L1489.6 215.1L1493.3 213.6L1496.4 213.6L1500.2 216.8L1502.3 215.4L1503.9 217L1506.5 216.3L1509.2 215.6L1511.8 214.3L1514 215.1L1516.1 216.8L1517.7 215.7L1519.8 217.5L1522.7 216.1L1525.6 215.1L1527.7 216.1L1530.1 214.6L1533 217.5L1535.2 217L1538.9 216.1L1541.5 217.8L1544.2 218.9L1547.4 216.8L1550 215.9L1552.7 216.3L1555.3 217L1557.4 216.9L1559.5 216.8L1561.7 217L1563.8 217.5L1566.2 217.1L1568.6 216.5L1572.5 218.6L1574.8 217.8L1577 216.1L1579.4 218.1L1581.8 219.1L1584.7 218L1587.7 217L1590 217.5L1592.4 218.9L1594.5 219.3L1596.7 220L1598.8 219.8L1600.9 219.1L1603.2 216.8L1605.5 218.5L1607.8 219.6L1610.7 219.9L1613.6 220L1616.3 219.6L1618.9 219.6L1621.6 220.3L1624.2 221L1626.9 220.7L1629.6 220.4L1631.7 218.9L1634.3 219.5L1637 220L1639.1 219.7L1641.2 220.2L1643.3 220.1L1645.5 219.6L1648.1 219.6L1650.8 220.2L1653.4 220.4L1656.1 221L1658.7 221.5L1661.4 221.2L1664 221.3L1666.7 221.8L1669.1 221.1L1671.4 219.6L1673.8 220.7L1676.2 221.8L1678.3 222.1L1680.5 222.3L1682.6 222.3L1684.7 221.4L1686.8 220.8L1689 220.4L1691.1 221L1693.2 222.1L1696.4 220.7L1698.5 221.7L1700.6 222.3L1702.7 222L1704.9 221.4L1707.5 220.7L1710.2 220.7L1712.3 221.6L1714.4 221.8L1717.1 221.8L1719.7 222.1L1722.9 220.2L1725 220.7L1727.1 221.8L1730 222.8" fill="none" stroke="#CC66FF" stroke-width="2.4" stroke-linejoin="round" stroke-linecap="round"/>
<path d="M1060 226.9L1062 226.8L1064 227L1066.1 227.5L1068.1 226.8L1070.1 226.9L1072.1 227L1074.1 226.4L1076.2 226.9L1078.2 227.1L1080.2 227.3L1082.2 226.3L1084.2 226.6L1086.2 226.3L1088.3 227.4L1090.3 227.2L1092.3 226.2L1094.3 227.6L1096.3 227.6L1098.4 227.1L1100.4 227.1L1102.4 226.4L1104.4 226.2L1106.4 226.9L1108.5 226.2L1110.5 226.4L1112.5 226.5L1114.5 226.2L1116.5 226.8L1118.6 226.8L1120.6 227.4L1122.6 226.9L1124.6 227.1L1126.6 226.9L1128.7 227.1L1130.7 226.8L1132.7 226.6L1134.7 227.7L1136.7 227.6L1138.8 227.4L1140.8 227.2L1142.8 226.6L1144.8 226.5L1146.8 226.6L1148.8 226.3L1150.9 227.3L1152.9 226.8L1154.9 227.4L1156.9 226.7L1158.9 227.6L1161 227.4L1163 226.2L1165 226.9L1167 226.4L1169.1 227.5L1171.1 226.8L1173.1 227.5L1175.1 226.6L1177.2 226.1L1179.2 226.9L1181.2 227.1L1183.2 226.3L1185.3 226L1187.3 226.4L1189.3 227.3L1191.3 227L1193.4 226L1195.4 226.2L1197.4 226.5L1199.6 225.9L1201.7 225.5L1203.9 225.5L1206.1 225.1L1208.2 223.9L1210.4 223.5L1214.3 224.8L1216.9 224.4L1219.4 223.8L1223.3 222.5L1225.9 224.6L1228.5 222.5L1232.4 224.2L1234.7 223L1237 222L1240.2 223.3L1242.8 222.2L1245.4 223.5L1248 221.6L1250.6 223.8L1253.2 222.2L1257 222L1260.9 223.5L1264.8 222.2L1267.4 222.5L1270 223.3L1273.9 222.9L1276.5 224.6L1279.1 223.7L1281.7 222.5L1283.8 222.1L1286 222.4L1288.2 222.2L1290.3 222.3L1292.5 222.9L1294.6 223.3L1296.8 222.8L1299 222.6L1301.1 222.5L1303.3 223.9L1305.4 224.7L1307.6 225.5L1310.2 224L1312.8 222.9L1315.4 223.1L1318 222.4L1320.6 222.5L1322.7 222.8L1324.9 223.6L1327.1 223.8L1329.6 223.8L1332.2 223.5L1336.1 221.6L1338.7 224.8L1342 222.2L1344.9 222.7L1347.8 223.8L1350.7 223.3L1353.6 222L1356.5 222.9L1359.5 224.2L1362.4 223.3L1365.3 222.9L1367.7 223.4L1370 223.4L1372.4 223.8L1375 223.6L1377.1 223.7L1379.2 223.8L1381.4 224.4L1384 223.1L1386.7 222.5L1388.8 223.3L1390.9 223.9L1394.1 223.3L1397 223.9L1399.9 224.9L1402.3 222.3L1405.8 223.9L1408.4 224.1L1411.1 224.2L1413.2 224.5L1415.3 224.9L1417.7 223.8L1420.1 222.8L1422.7 224.4L1425.4 225.2L1428 225.3L1430.2 224.9L1432.3 224.6L1434.4 224.2L1436.5 224.6L1438.6 224.4L1440.8 224.4L1442.9 224.7L1445 225.3L1447.1 225.4L1449.2 225.1L1451.4 224.4L1453.5 224.4L1457.2 222.8L1460.9 224.2L1463.6 224.2L1466.2 224.6L1469.4 223.3L1472.1 224.1L1474.7 224.4L1478.4 225.3L1482.1 223.1L1484.3 224.2L1486.4 224.3L1488.5 225.3L1490.6 225.5L1492.7 225.3L1494.9 224.9L1497.1 224.9L1499.4 224.7L1501.6 224.4L1503.9 224.6L1507.6 225.5L1510.2 224.7L1512.9 224.6L1515.3 225.1L1517.7 224.9L1521.4 224.2L1524 224.7L1526.7 225.7L1528.8 225.5L1530.9 224.9L1533.6 225L1536.2 225.5L1538.3 225.3L1540.5 224.6L1542.6 224.9L1544.7 224.9L1546.8 225.3L1550 224.6L1552.1 224.6L1554.2 225.2L1556.4 225.3L1558.5 225.1L1560.6 225.7L1563.3 225.1L1565.9 224.9L1568.6 225.3L1571.2 225.5L1573.3 225.1L1575.5 224.2L1578.1 224.1L1580.8 223.9L1583.4 224.4L1586.1 225.3L1588.2 225.4L1590.3 224.6L1592.4 224.6L1594.5 225.2L1596.7 226.5L1598.8 225.4L1600.9 224.6L1603.6 225.1L1606.2 225.7L1609.4 226.3L1611.5 225.3L1613.6 224.9L1616.3 224.2L1618.9 226.7L1621.1 224.4L1623.2 224.7L1625.3 225.5L1627.4 225.1L1629.6 225L1631.7 224.6L1633.8 224.5L1635.9 224.8L1638 225.4L1640.2 225.3L1642.8 225.3L1645.5 224.6L1647.6 225.6L1649.7 226.3L1651.8 224.4L1653.9 225L1656.1 225.3L1658.2 225.5L1660.3 225.3L1662.4 225.7L1664.9 225.1L1667.4 224.8L1669.9 224.9L1672 224.9L1674.1 224.2L1676.2 225.6L1678.3 226.7L1681.5 224.4L1684.2 226.1L1686.8 227.1L1689.5 225.9L1692.1 225.5L1694.3 225.6L1696.4 225.6L1698.5 225.7L1700.6 225.3L1702.7 224.6L1704.9 224.7L1707 225.4L1709.1 225.3L1711.2 224.8L1713.3 225.1L1715.5 224.9L1717.6 225.3L1719.7 225.6L1721.8 225.5L1723.9 225.7L1725.9 225.6L1728 225.7L1730 225.5" fill="none" stroke="#6666FF" stroke-width="2.4" stroke-linejoin="round" stroke-linecap="round"/>
<line x1="1595.8" y1="23.2" x2="1626.3" y2="23.2" stroke="#6666FF" stroke-width="2.2" stroke-linecap="butt"/>
<text transform="translate(1640.5 34.4) scale(1 1.05)" font-size="33" text-anchor="start">0.5 %</text>
<line x1="1595.8" y1="56.7" x2="1626.3" y2="56.7" stroke="#CC66FF" stroke-width="2.2" stroke-linecap="butt"/>
<text transform="translate(1640.5 67.9) scale(1 1.05)" font-size="33" text-anchor="start">1 %</text>
<line x1="1595.8" y1="90.3" x2="1626.3" y2="90.3" stroke="#8000FF" stroke-width="2.2" stroke-linecap="butt"/>
<text transform="translate(1640.5 101.5) scale(1 1.05)" font-size="33" text-anchor="start">5 %</text>
<line x1="1595.8" y1="124.6" x2="1626.3" y2="124.6" stroke="#400080" stroke-width="2.2" stroke-linecap="butt"/>
<text transform="translate(1640.5 135.8) scale(1 1.05)" font-size="33" text-anchor="start">10 %</text>
<rect x="208.4" y="385.5" width="290.2" height="97.9" fill="#fff" stroke="#1a1a1a" stroke-width="1.6"/>
<circle cx="225.1" cy="410.4" r="4.2" fill="#FF800E"/>
<path d="M219.7 463.4L230.5 463.4L225.1 453.2Z" fill="#FF800E"/>
<rect x="380.4" y="406.3" width="8.2" height="8.2" fill="#FF800E"/>
<path d="M379.1 458.3L384.5 452.9L389.9 458.3L384.5 463.7Z" fill="#FF800E"/>
<text transform="translate(255.7 421.6) scale(1 1.05)" font-size="32.4" text-anchor="start">0.5%</text>
<text transform="translate(255.7 469.4) scale(1 1.05)" font-size="32.4" text-anchor="start">5%</text>
<text transform="translate(414.9 421.6) scale(1 1.05)" font-size="32.4" text-anchor="start">1%</text>
<text transform="translate(414.9 469.4) scale(1 1.05)" font-size="32.4" text-anchor="start">10%</text>
<rect x="150.2" y="691.9" width="11.4" height="72.5" fill="#B3B3B3"/>
<rect x="167.6" y="655.5" width="11.4" height="108.9" fill="#B3B3B3"/>
<rect x="185" y="636.6" width="11.4" height="127.8" fill="#B3B3B3"/>
<rect x="202.4" y="622.9" width="11.4" height="141.5" fill="#B3B3B3"/>
<rect x="231.8" y="752.6" width="11.4" height="11.8" fill="#B3B3B3"/>
<rect x="249.2" y="740.3" width="11.4" height="24.1" fill="#B3B3B3"/>
<rect x="266.6" y="722.9" width="11.4" height="41.5" fill="#B3B3B3"/>
<rect x="284" y="692.4" width="11.4" height="72" fill="#B3B3B3"/>
<rect x="313.5" y="747.2" width="11.4" height="17.2" fill="#B3B3B3"/>
<rect x="330.9" y="705.8" width="11.4" height="58.6" fill="#B3B3B3"/>
<rect x="348.3" y="689.2" width="11.4" height="75.2" fill="#B3B3B3"/>
<rect x="365.7" y="702.6" width="11.4" height="61.8" fill="#B3B3B3"/>
<rect x="395.1" y="753.6" width="11.4" height="10.8" fill="#B3B3B3"/>
<rect x="412.5" y="755" width="11.4" height="9.4" fill="#B3B3B3"/>
<rect x="429.9" y="741.1" width="11.4" height="23.3" fill="#B3B3B3"/>
<rect x="447.3" y="740" width="11.4" height="24.4" fill="#B3B3B3"/>
<rect x="476.7" y="755" width="11.4" height="9.4" fill="#B3B3B3"/>
<rect x="494.1" y="742.7" width="11.4" height="21.7" fill="#B3B3B3"/>
<rect x="511.5" y="713.3" width="11.4" height="51.1" fill="#B3B3B3"/>
<rect x="528.9" y="691.9" width="11.4" height="72.5" fill="#B3B3B3"/>
<line x1="144.9" y1="498.5" x2="144.9" y2="769.8" stroke="#000" stroke-width="3.9" stroke-linecap="butt"/>
<line x1="130.9" y1="767.8" x2="546.2" y2="767.8" stroke="#000" stroke-width="4.0" stroke-linecap="butt"/>
<text transform="translate(127.5 779) scale(1 1.05)" font-size="33" text-anchor="end">0</text>
<line x1="130.9" y1="714.3" x2="144.9" y2="714.3" stroke="#000" stroke-width="4.2" stroke-linecap="butt"/>
<text transform="translate(127.5 725.5) scale(1 1.05)" font-size="33" text-anchor="end">20</text>
<line x1="130.9" y1="660.9" x2="144.9" y2="660.9" stroke="#000" stroke-width="4.2" stroke-linecap="butt"/>
<text transform="translate(127.5 672.1) scale(1 1.05)" font-size="33" text-anchor="end">40</text>
<line x1="130.9" y1="607.4" x2="144.9" y2="607.4" stroke="#000" stroke-width="4.2" stroke-linecap="butt"/>
<text transform="translate(127.5 618.6) scale(1 1.05)" font-size="33" text-anchor="end">60</text>
<line x1="130.9" y1="554" x2="144.9" y2="554" stroke="#000" stroke-width="4.2" stroke-linecap="butt"/>
<text transform="translate(127.5 565.2) scale(1 1.05)" font-size="33" text-anchor="end">80</text>
<line x1="130.9" y1="500.5" x2="144.9" y2="500.5" stroke="#000" stroke-width="4.2" stroke-linecap="butt"/>
<text transform="translate(127.5 511.7) scale(1 1.05)" font-size="33" text-anchor="end">100</text>
<line x1="182" y1="767.8" x2="182" y2="781.9" stroke="#000" stroke-width="4.0" stroke-linecap="butt"/>
<text transform="translate(193.4 784.8) rotate(-90)" font-size="33.5" text-anchor="end">Ethyl butyrate</text>
<line x1="263.6" y1="767.8" x2="263.6" y2="781.9" stroke="#000" stroke-width="4.0" stroke-linecap="butt"/>
<text transform="translate(275 784.8) rotate(-90)" font-size="33.5" text-anchor="end">Isoamyl acetate</text>
<line x1="345.3" y1="767.8" x2="345.3" y2="781.9" stroke="#000" stroke-width="4.0" stroke-linecap="butt"/>
<text transform="translate(356.7 784.8) rotate(-90)" font-size="33.5" text-anchor="end">Hexanal</text>
<line x1="426.9" y1="767.8" x2="426.9" y2="781.9" stroke="#000" stroke-width="4.0" stroke-linecap="butt"/>
<text transform="translate(438.3 784.8) rotate(-90)" font-size="33.5" text-anchor="end">Propionic acid</text>
<line x1="508.5" y1="767.8" x2="508.5" y2="781.9" stroke="#000" stroke-width="4.0" stroke-linecap="butt"/>
<text transform="translate(519.9 784.8) rotate(-90)" font-size="33.5" text-anchor="end">2-hexanone</text>
<circle cx="155.9" cy="578.8" r="4.2" fill="#FF800E"/>
<circle cx="155.9" cy="625.6" r="4.2" fill="#FF800E"/>
<circle cx="155.9" cy="656.1" r="4.2" fill="#FF800E"/>
<circle cx="155.9" cy="695.4" r="4.2" fill="#FF800E"/>
<circle cx="155.9" cy="752.3" r="4.2" fill="#FF800E"/>
<circle cx="155.9" cy="767.8" r="4.2" fill="#FF800E"/>
<rect x="169.2" y="563.2" width="8.2" height="8.2" fill="#FF800E"/>
<rect x="169.2" y="576.3" width="8.2" height="8.2" fill="#FF800E"/>
<rect x="169.2" y="627.1" width="8.2" height="8.2" fill="#FF800E"/>
<rect x="169.2" y="645" width="8.2" height="8.2" fill="#FF800E"/>
<rect x="169.2" y="647.7" width="8.2" height="8.2" fill="#FF800E"/>
<rect x="169.2" y="732.2" width="8.2" height="8.2" fill="#FF800E"/>
<rect x="169.2" y="763.7" width="8.2" height="8.2" fill="#FF800E"/>
<path d="M185.3 528.7L196.1 528.7L190.7 518.5Z" fill="#FF800E"/>
<path d="M185.3 560.2L196.1 560.2L190.7 550Z" fill="#FF800E"/>
<path d="M185.3 612.3L196.1 612.3L190.7 602.1Z" fill="#FF800E"/>
<path d="M185.3 640.4L196.1 640.4L190.7 630.2Z" fill="#FF800E"/>
<path d="M185.3 655.4L196.1 655.4L190.7 645.2Z" fill="#FF800E"/>
<path d="M185.3 727.3L196.1 727.3L190.7 717.1Z" fill="#FF800E"/>
<path d="M185.3 773.5L196.1 773.5L190.7 763.3Z" fill="#FF800E"/>
<path d="M202.7 511.7L208.1 506.3L213.5 511.7L208.1 517.1Z" fill="#FF800E"/>
<path d="M202.7 545.1L208.1 539.7L213.5 545.1L208.1 550.5Z" fill="#FF800E"/>
<path d="M202.7 587.4L208.1 582L213.5 587.4L208.1 592.8Z" fill="#FF800E"/>
<path d="M202.7 609.8L208.1 604.4L213.5 609.8L208.1 615.2Z" fill="#FF800E"/>
<path d="M202.7 649.1L208.1 643.7L213.5 649.1L208.1 654.5Z" fill="#FF800E"/>
<path d="M202.7 720.8L208.1 715.4L213.5 720.8L208.1 726.2Z" fill="#FF800E"/>
<path d="M202.7 734.4L208.1 729L213.5 734.4L208.1 739.8Z" fill="#FF800E"/>
<circle cx="237.5" cy="689.7" r="4.2" fill="#FF800E"/>
<circle cx="237.5" cy="749.9" r="4.2" fill="#FF800E"/>
<circle cx="237.5" cy="756" r="4.2" fill="#FF800E"/>
<circle cx="237.5" cy="767.8" r="4.2" fill="#FF800E"/>
<rect x="250.8" y="720.7" width="8.2" height="8.2" fill="#FF800E"/>
<rect x="250.8" y="726.3" width="8.2" height="8.2" fill="#FF800E"/>
<rect x="250.8" y="731.6" width="8.2" height="8.2" fill="#FF800E"/>
<rect x="250.8" y="737.2" width="8.2" height="8.2" fill="#FF800E"/>
<rect x="250.8" y="742.6" width="8.2" height="8.2" fill="#FF800E"/>
<rect x="250.8" y="748.2" width="8.2" height="8.2" fill="#FF800E"/>
<rect x="250.8" y="753.5" width="8.2" height="8.2" fill="#FF800E"/>
<path d="M266.9 689L277.7 689L272.3 678.8Z" fill="#FF800E"/>
<path d="M266.9 703.2L277.7 703.2L272.3 693Z" fill="#FF800E"/>
<path d="M266.9 718.2L277.7 718.2L272.3 708Z" fill="#FF800E"/>
<path d="M266.9 740.6L277.7 740.6L272.3 730.4Z" fill="#FF800E"/>
<path d="M266.9 744.4L277.7 744.4L272.3 734.2Z" fill="#FF800E"/>
<path d="M266.9 763.3L277.7 763.3L272.3 753.1Z" fill="#FF800E"/>
<path d="M284.3 634.1L289.7 628.8L295.1 634.1L289.7 639.5Z" fill="#FF800E"/>
<path d="M284.3 640.6L289.7 635.2L295.1 640.6L289.7 646Z" fill="#FF800E"/>
<path d="M284.3 649.9L289.7 644.5L295.1 649.9L289.7 655.3Z" fill="#FF800E"/>
<path d="M284.3 704.7L289.7 699.3L295.1 704.7L289.7 710.1Z" fill="#FF800E"/>
<path d="M284.3 712.7L289.7 707.3L295.1 712.7L289.7 718.1Z" fill="#FF800E"/>
<path d="M284.3 738.1L289.7 732.7L295.1 738.1L289.7 743.5Z" fill="#FF800E"/>
<path d="M284.3 767.8L289.7 762.4L295.1 767.8L289.7 773.2Z" fill="#FF800E"/>
<circle cx="319.2" cy="678.8" r="4.2" fill="#FF800E"/>
<circle cx="319.2" cy="740.3" r="4.2" fill="#FF800E"/>
<circle cx="319.2" cy="743.2" r="4.2" fill="#FF800E"/>
<circle cx="319.2" cy="761.9" r="4.2" fill="#FF800E"/>
<circle cx="319.2" cy="767.8" r="4.2" fill="#FF800E"/>
<rect x="332.5" y="567.8" width="8.2" height="8.2" fill="#FF800E"/>
<rect x="332.5" y="674.7" width="8.2" height="8.2" fill="#FF800E"/>
<rect x="332.5" y="690.7" width="8.2" height="8.2" fill="#FF800E"/>
<rect x="332.5" y="695.3" width="8.2" height="8.2" fill="#FF800E"/>
<rect x="332.5" y="752.7" width="8.2" height="8.2" fill="#FF800E"/>
<rect x="332.5" y="763.7" width="8.2" height="8.2" fill="#FF800E"/>
<path d="M348.6 578.1L359.4 578.1L354 567.9Z" fill="#FF800E"/>
<path d="M348.6 637.4L359.4 637.4L354 627.2Z" fill="#FF800E"/>
<path d="M348.6 662.8L359.4 662.8L354 652.6Z" fill="#FF800E"/>
<path d="M348.6 665.8L359.4 665.8L354 655.6Z" fill="#FF800E"/>
<path d="M348.6 773.5L359.4 773.5L354 763.3Z" fill="#FF800E"/>
<path d="M366 589.8L371.4 584.4L376.8 589.8L371.4 595.2Z" fill="#FF800E"/>
<path d="M366 612L371.4 606.6L376.8 612L371.4 617.4Z" fill="#FF800E"/>
<path d="M366 701.2L371.4 695.8L376.8 701.2L371.4 706.6Z" fill="#FF800E"/>
<path d="M366 712.2L371.4 706.8L376.8 712.2L371.4 717.6Z" fill="#FF800E"/>
<path d="M366 767.8L371.4 762.4L376.8 767.8L371.4 773.2Z" fill="#FF800E"/>
<circle cx="400.8" cy="689.7" r="4.2" fill="#FF800E"/>
<circle cx="400.8" cy="749.9" r="4.2" fill="#FF800E"/>
<circle cx="400.8" cy="761.4" r="4.2" fill="#FF800E"/>
<circle cx="400.8" cy="767.8" r="4.2" fill="#FF800E"/>
<rect x="414.1" y="692.3" width="8.2" height="8.2" fill="#FF800E"/>
<rect x="414.1" y="745.5" width="8.2" height="8.2" fill="#FF800E"/>
<rect x="414.1" y="763.7" width="8.2" height="8.2" fill="#FF800E"/>
<path d="M430.2 673.8L441 673.8L435.6 663.6Z" fill="#FF800E"/>
<path d="M430.2 711.8L441 711.8L435.6 701.6Z" fill="#FF800E"/>
<path d="M430.2 758.8L441 758.8L435.6 748.6Z" fill="#FF800E"/>
<path d="M430.2 767.1L441 767.1L435.6 756.9Z" fill="#FF800E"/>
<path d="M430.2 771.6L441 771.6L435.6 761.4Z" fill="#FF800E"/>
<path d="M430.2 773.5L441 773.5L435.6 763.3Z" fill="#FF800E"/>
<path d="M447.6 652.1L453 646.7L458.4 652.1L453 657.5Z" fill="#FF800E"/>
<path d="M447.6 737.6L453 732.2L458.4 737.6L453 743Z" fill="#FF800E"/>
<path d="M447.6 745.6L453 740.2L458.4 745.6L453 751Z" fill="#FF800E"/>
<path d="M447.6 752.3L453 746.9L458.4 752.3L453 757.7Z" fill="#FF800E"/>
<path d="M447.6 755L453 749.6L458.4 755L453 760.4Z" fill="#FF800E"/>
<path d="M447.6 767.8L453 762.4L458.4 767.8L453 773.2Z" fill="#FF800E"/>
<circle cx="482.4" cy="678.8" r="4.2" fill="#FF800E"/>
<circle cx="482.4" cy="767.8" r="4.2" fill="#FF800E"/>
<rect x="495.7" y="654.4" width="8.2" height="8.2" fill="#FF800E"/>
<rect x="495.7" y="730.3" width="8.2" height="8.2" fill="#FF800E"/>
<rect x="495.7" y="745.8" width="8.2" height="8.2" fill="#FF800E"/>
<rect x="495.7" y="763.7" width="8.2" height="8.2" fill="#FF800E"/>
<path d="M511.8 634L522.6 634L517.2 623.8Z" fill="#FF800E"/>
<path d="M511.8 673.8L522.6 673.8L517.2 663.6Z" fill="#FF800E"/>
<path d="M511.8 685.3L522.6 685.3L517.2 675.1Z" fill="#FF800E"/>
<path d="M511.8 718.7L522.6 718.7L517.2 708.5Z" fill="#FF800E"/>
<path d="M511.8 773.5L522.6 773.5L517.2 763.3Z" fill="#FF800E"/>
<path d="M529.2 607.2L534.6 601.8L540 607.2L534.6 612.6Z" fill="#FF800E"/>
<path d="M529.2 622.1L534.6 616.7L540 622.1L534.6 627.5Z" fill="#FF800E"/>
<path d="M529.2 645.4L534.6 640L540 645.4L534.6 650.8Z" fill="#FF800E"/>
<path d="M529.2 661.9L534.6 656.5L540 661.9L534.6 667.3Z" fill="#FF800E"/>
<path d="M529.2 767.8L534.6 762.4L540 767.8L534.6 773.2Z" fill="#FF800E"/>
<text transform="translate(24.9 618) rotate(-90)" font-size="32.5" text-anchor="middle">% glomeruli</text>
<text transform="translate(63.4 618) rotate(-90)" font-size="32.5" text-anchor="middle">responding</text>
<text x="-0.3" y="405" font-size="44.5" text-anchor="start">c</text>
<rect x="795.1" y="385.5" width="288" height="97.9" fill="#fff" stroke="#1a1a1a" stroke-width="1.6"/>
<circle cx="820.2" cy="410.4" r="4.2" fill="#6666FF"/>
<path d="M814.8 464.9L825.6 464.9L820.2 454.7Z" fill="#6666FF"/>
<rect x="974.8" y="406.3" width="8.2" height="8.2" fill="#6666FF"/>
<path d="M973.5 459.8L978.9 454.4L984.3 459.8L978.9 465.2Z" fill="#6666FF"/>
<text transform="translate(850.8 420.5) scale(1 1.05)" font-size="32.4" text-anchor="start">0.5%</text>
<text transform="translate(850.8 469.8) scale(1 1.05)" font-size="32.4" text-anchor="start">5%</text>
<text transform="translate(1008.8 420.5) scale(1 1.05)" font-size="32.4" text-anchor="start">1%</text>
<text transform="translate(1008.8 469.8) scale(1 1.05)" font-size="32.4" text-anchor="start">10%</text>
<rect x="741.1" y="717.5" width="11.4" height="46.9" fill="#B3B3B3"/>
<rect x="758.5" y="662.5" width="11.4" height="101.9" fill="#B3B3B3"/>
<rect x="775.9" y="620.8" width="11.4" height="143.6" fill="#B3B3B3"/>
<rect x="793.3" y="617.8" width="11.4" height="146.6" fill="#B3B3B3"/>
<rect x="822.5" y="763.3" width="11.4" height="1.1" fill="#B3B3B3"/>
<rect x="839.9" y="749.1" width="11.4" height="15.3" fill="#B3B3B3"/>
<rect x="857.3" y="700.4" width="11.4" height="64" fill="#B3B3B3"/>
<rect x="874.7" y="682" width="11.4" height="82.4" fill="#B3B3B3"/>
<rect x="903.8" y="760.6" width="11.4" height="3.8" fill="#B3B3B3"/>
<rect x="921.2" y="747.8" width="11.4" height="16.6" fill="#B3B3B3"/>
<rect x="938.6" y="728.5" width="11.4" height="35.9" fill="#B3B3B3"/>
<rect x="956" y="682.8" width="11.4" height="81.6" fill="#B3B3B3"/>
<rect x="1002.5" y="759.5" width="11.4" height="4.9" fill="#B3B3B3"/>
<rect x="1019.9" y="765.7" width="11.4" height="-1.3" fill="#B3B3B3"/>
<rect x="1037.3" y="756.8" width="11.4" height="7.6" fill="#B3B3B3"/>
<rect x="1066.4" y="755.5" width="11.4" height="8.9" fill="#B3B3B3"/>
<rect x="1083.8" y="728.5" width="11.4" height="35.9" fill="#B3B3B3"/>
<rect x="1101.2" y="722.1" width="11.4" height="42.3" fill="#B3B3B3"/>
<rect x="1118.6" y="669.2" width="11.4" height="95.2" fill="#B3B3B3"/>
<line x1="735.3" y1="498.5" x2="735.3" y2="769.8" stroke="#000" stroke-width="3.9" stroke-linecap="butt"/>
<line x1="721.3" y1="767.8" x2="1136.6" y2="767.8" stroke="#000" stroke-width="4.0" stroke-linecap="butt"/>
<text transform="translate(717.9 779) scale(1 1.05)" font-size="33" text-anchor="end">0</text>
<line x1="721.3" y1="714.3" x2="735.3" y2="714.3" stroke="#000" stroke-width="4.2" stroke-linecap="butt"/>
<text transform="translate(717.9 725.5) scale(1 1.05)" font-size="33" text-anchor="end">20</text>
<line x1="721.3" y1="660.9" x2="735.3" y2="660.9" stroke="#000" stroke-width="4.2" stroke-linecap="butt"/>
<text transform="translate(717.9 672.1) scale(1 1.05)" font-size="33" text-anchor="end">40</text>
<line x1="721.3" y1="607.4" x2="735.3" y2="607.4" stroke="#000" stroke-width="4.2" stroke-linecap="butt"/>
<text transform="translate(717.9 618.6) scale(1 1.05)" font-size="33" text-anchor="end">60</text>
<line x1="721.3" y1="554" x2="735.3" y2="554" stroke="#000" stroke-width="4.2" stroke-linecap="butt"/>
<text transform="translate(717.9 565.2) scale(1 1.05)" font-size="33" text-anchor="end">80</text>
<line x1="721.3" y1="500.5" x2="735.3" y2="500.5" stroke="#000" stroke-width="4.2" stroke-linecap="butt"/>
<text transform="translate(717.9 511.7) scale(1 1.05)" font-size="33" text-anchor="end">100</text>
<line x1="772.9" y1="767.8" x2="772.9" y2="781.9" stroke="#000" stroke-width="4.0" stroke-linecap="butt"/>
<text transform="translate(784.3 784.8) rotate(-90)" font-size="33.5" text-anchor="end">Ethyl butyrate</text>
<line x1="854.3" y1="767.8" x2="854.3" y2="781.9" stroke="#000" stroke-width="4.0" stroke-linecap="butt"/>
<text transform="translate(865.7 784.8) rotate(-90)" font-size="33.5" text-anchor="end">Isoamyl acetate</text>
<line x1="935.6" y1="767.8" x2="935.6" y2="781.9" stroke="#000" stroke-width="4.0" stroke-linecap="butt"/>
<text transform="translate(947 784.8) rotate(-90)" font-size="33.5" text-anchor="end">Hexanal</text>
<line x1="1016.9" y1="767.8" x2="1016.9" y2="781.9" stroke="#000" stroke-width="4.0" stroke-linecap="butt"/>
<text transform="translate(1028.3 784.8) rotate(-90)" font-size="33.5" text-anchor="end">Propionic acid</text>
<line x1="1098.2" y1="767.8" x2="1098.2" y2="781.9" stroke="#000" stroke-width="4.0" stroke-linecap="butt"/>
<text transform="translate(1109.6 784.8) rotate(-90)" font-size="33.5" text-anchor="end">2-hexanone</text>
<circle cx="746.8" cy="589.8" r="4.2" fill="#6666FF"/>
<circle cx="746.8" cy="622.9" r="4.2" fill="#6666FF"/>
<circle cx="746.8" cy="735.7" r="4.2" fill="#6666FF"/>
<circle cx="746.8" cy="767.8" r="4.2" fill="#6666FF"/>
<rect x="760.1" y="518.6" width="8.2" height="8.2" fill="#6666FF"/>
<rect x="760.1" y="541" width="8.2" height="8.2" fill="#6666FF"/>
<rect x="760.1" y="603.3" width="8.2" height="8.2" fill="#6666FF"/>
<rect x="760.1" y="652.2" width="8.2" height="8.2" fill="#6666FF"/>
<rect x="760.1" y="763.7" width="8.2" height="8.2" fill="#6666FF"/>
<path d="M776.2 506.2L787 506.2L781.6 496Z" fill="#6666FF"/>
<path d="M776.2 528.7L787 528.7L781.6 518.5Z" fill="#6666FF"/>
<path d="M776.2 549.8L787 549.8L781.6 539.6Z" fill="#6666FF"/>
<path d="M776.2 618.2L787 618.2L781.6 608Z" fill="#6666FF"/>
<path d="M776.2 696L787 696L781.6 685.8Z" fill="#6666FF"/>
<path d="M776.2 714.7L787 714.7L781.6 704.5Z" fill="#6666FF"/>
<path d="M776.2 773.5L787 773.5L781.6 763.3Z" fill="#6666FF"/>
<path d="M793.6 500.2L799 494.8L804.4 500.2L799 505.6Z" fill="#6666FF"/>
<path d="M793.6 522.7L799 517.3L804.4 522.7L799 528.1Z" fill="#6666FF"/>
<path d="M793.6 543.5L799 538.1L804.4 543.5L799 548.9Z" fill="#6666FF"/>
<path d="M793.6 589.8L799 584.4L804.4 589.8L799 595.2Z" fill="#6666FF"/>
<path d="M793.6 678.8L799 673.4L804.4 678.8L799 684.2Z" fill="#6666FF"/>
<path d="M793.6 721.3L799 715.9L804.4 721.3L799 726.7Z" fill="#6666FF"/>
<path d="M793.6 767.8L799 762.4L804.4 767.8L799 773.2Z" fill="#6666FF"/>
<circle cx="828.2" cy="745.6" r="4.2" fill="#6666FF"/>
<circle cx="828.2" cy="757.1" r="4.2" fill="#6666FF"/>
<circle cx="828.2" cy="767.8" r="4.2" fill="#6666FF"/>
<rect x="841.5" y="697.1" width="8.2" height="8.2" fill="#6666FF"/>
<rect x="841.5" y="719.3" width="8.2" height="8.2" fill="#6666FF"/>
<rect x="841.5" y="742.3" width="8.2" height="8.2" fill="#6666FF"/>
<rect x="841.5" y="763.7" width="8.2" height="8.2" fill="#6666FF"/>
<path d="M857.6 618.2L868.4 618.2L863 608Z" fill="#6666FF"/>
<path d="M857.6 640.4L868.4 640.4L863 630.2Z" fill="#6666FF"/>
<path d="M857.6 677.5L868.4 677.5L863 667.3Z" fill="#6666FF"/>
<path d="M857.6 685.8L868.4 685.8L863 675.6Z" fill="#6666FF"/>
<path d="M857.6 773.5L868.4 773.5L863 763.3Z" fill="#6666FF"/>
<path d="M875 586L880.4 580.6L885.8 586L880.4 591.4Z" fill="#6666FF"/>
<path d="M875 612L880.4 606.6L885.8 612L880.4 617.4Z" fill="#6666FF"/>
<path d="M875 656.6L880.4 651.2L885.8 656.6L880.4 662Z" fill="#6666FF"/>
<path d="M875 767.8L880.4 762.4L885.8 767.8L880.4 773.2Z" fill="#6666FF"/>
<circle cx="909.5" cy="723.4" r="4.2" fill="#6666FF"/>
<circle cx="909.5" cy="757.1" r="4.2" fill="#6666FF"/>
<circle cx="909.5" cy="767.8" r="4.2" fill="#6666FF"/>
<rect x="922.8" y="674.7" width="8.2" height="8.2" fill="#6666FF"/>
<rect x="922.8" y="730.6" width="8.2" height="8.2" fill="#6666FF"/>
<rect x="922.8" y="742.3" width="8.2" height="8.2" fill="#6666FF"/>
<rect x="922.8" y="763.7" width="8.2" height="8.2" fill="#6666FF"/>
<path d="M938.9 640.4L949.7 640.4L944.3 630.2Z" fill="#6666FF"/>
<path d="M938.9 662.3L949.7 662.3L944.3 652.1Z" fill="#6666FF"/>
<path d="M938.9 742L949.7 742L944.3 731.8Z" fill="#6666FF"/>
<path d="M938.9 773.5L949.7 773.5L944.3 763.3Z" fill="#6666FF"/>
<path d="M956.3 522.7L961.7 517.3L967.1 522.7L961.7 528.1Z" fill="#6666FF"/>
<path d="M956.3 556.1L961.7 550.7L967.1 556.1L961.7 561.5Z" fill="#6666FF"/>
<path d="M956.3 671.6L961.7 666.2L967.1 671.6L961.7 677Z" fill="#6666FF"/>
<path d="M956.3 723.4L961.7 718L967.1 723.4L961.7 728.8Z" fill="#6666FF"/>
<path d="M956.3 767.8L961.7 762.4L967.1 767.8L961.7 773.2Z" fill="#6666FF"/>
<circle cx="990.8" cy="767.8" r="4.2" fill="#6666FF"/>
<rect x="1004.1" y="716.7" width="8.2" height="8.2" fill="#6666FF"/>
<rect x="1004.1" y="752.7" width="8.2" height="8.2" fill="#6666FF"/>
<rect x="1004.1" y="763.7" width="8.2" height="8.2" fill="#6666FF"/>
<path d="M1020.2 763.3L1031 763.3L1025.6 753.1Z" fill="#6666FF"/>
<path d="M1020.2 773.5L1031 773.5L1025.6 763.3Z" fill="#6666FF"/>
<path d="M1037.6 735.5L1043 730.1L1048.4 735.5L1043 740.9Z" fill="#6666FF"/>
<path d="M1037.6 745.6L1043 740.2L1048.4 745.6L1043 751Z" fill="#6666FF"/>
<path d="M1037.6 752.3L1043 746.9L1048.4 752.3L1043 757.7Z" fill="#6666FF"/>
<path d="M1037.6 757.6L1043 752.2L1048.4 757.6L1043 763Z" fill="#6666FF"/>
<path d="M1037.6 767.8L1043 762.4L1048.4 767.8L1043 773.2Z" fill="#6666FF"/>
<circle cx="1072.1" cy="723.4" r="4.2" fill="#6666FF"/>
<circle cx="1072.1" cy="745.9" r="4.2" fill="#6666FF"/>
<circle cx="1072.1" cy="767.8" r="4.2" fill="#6666FF"/>
<rect x="1085.4" y="652.5" width="8.2" height="8.2" fill="#6666FF"/>
<rect x="1085.4" y="697.1" width="8.2" height="8.2" fill="#6666FF"/>
<rect x="1085.4" y="710.2" width="8.2" height="8.2" fill="#6666FF"/>
<rect x="1085.4" y="734.6" width="8.2" height="8.2" fill="#6666FF"/>
<rect x="1085.4" y="748.2" width="8.2" height="8.2" fill="#6666FF"/>
<rect x="1085.4" y="763.7" width="8.2" height="8.2" fill="#6666FF"/>
<path d="M1101.5 656.7L1112.3 656.7L1106.9 646.5Z" fill="#6666FF"/>
<path d="M1101.5 662.8L1112.3 662.8L1106.9 652.6Z" fill="#6666FF"/>
<path d="M1101.5 696L1112.3 696L1106.9 685.8Z" fill="#6666FF"/>
<path d="M1101.5 758.8L1112.3 758.8L1106.9 748.6Z" fill="#6666FF"/>
<path d="M1101.5 773.5L1112.3 773.5L1106.9 763.3Z" fill="#6666FF"/>
<path d="M1118.9 545.1L1124.3 539.7L1129.7 545.1L1124.3 550.5Z" fill="#6666FF"/>
<path d="M1118.9 575.1L1124.3 569.7L1129.7 575.1L1124.3 580.5Z" fill="#6666FF"/>
<path d="M1118.9 634.4L1124.3 629L1129.7 634.4L1124.3 639.8Z" fill="#6666FF"/>
<path d="M1118.9 667.6L1124.3 662.2L1129.7 667.6L1124.3 673Z" fill="#6666FF"/>
<path d="M1118.9 738.1L1124.3 732.7L1129.7 738.1L1124.3 743.5Z" fill="#6666FF"/>
<path d="M1118.9 752.3L1124.3 746.9L1129.7 752.3L1124.3 757.7Z" fill="#6666FF"/>
<path d="M1118.9 767.8L1124.3 762.4L1129.7 767.8L1124.3 773.2Z" fill="#6666FF"/>
<text transform="translate(615.9 618) rotate(-90)" font-size="32.5" text-anchor="middle">% glomeruli</text>
<text transform="translate(654.4 618) rotate(-90)" font-size="32.5" text-anchor="middle">responding</text>
<text x="587.3" y="405" font-size="44.5" text-anchor="start">d</text>
<line x1="1336.8" y1="497.6" x2="1336.8" y2="719.1" stroke="#000" stroke-width="4.2" stroke-linecap="butt"/>
<line x1="1336.8" y1="742.4" x2="1336.8" y2="766.8" stroke="#000" stroke-width="4.2" stroke-linecap="butt"/>
<line x1="1323" y1="719.1" x2="1345.6" y2="719.1" stroke="#000" stroke-width="4" stroke-linecap="butt"/>
<line x1="1328" y1="742.4" x2="1345.6" y2="742.4" stroke="#000" stroke-width="4" stroke-linecap="butt"/>
<line x1="1323" y1="764.9" x2="1336.8" y2="764.9" stroke="#000" stroke-width="3.8" stroke-linecap="butt"/>
<line x1="1336.8" y1="766.8" x2="1738.9" y2="766.8" stroke="#000" stroke-width="4.0" stroke-linecap="butt"/>
<line x1="1323" y1="499.6" x2="1336.8" y2="499.6" stroke="#000" stroke-width="4" stroke-linecap="butt"/>
<text transform="translate(1319.5 510.8) scale(1 1.05)" font-size="33" text-anchor="end">100</text>
<line x1="1323" y1="544" x2="1336.8" y2="544" stroke="#000" stroke-width="4" stroke-linecap="butt"/>
<text transform="translate(1319.5 555.2) scale(1 1.05)" font-size="33" text-anchor="end">80</text>
<line x1="1323" y1="588.3" x2="1336.8" y2="588.3" stroke="#000" stroke-width="4" stroke-linecap="butt"/>
<text transform="translate(1319.5 599.5) scale(1 1.05)" font-size="33" text-anchor="end">60</text>
<line x1="1323" y1="632.6" x2="1336.8" y2="632.6" stroke="#000" stroke-width="4" stroke-linecap="butt"/>
<text transform="translate(1319.5 643.8) scale(1 1.05)" font-size="33" text-anchor="end">40</text>
<line x1="1323" y1="677" x2="1336.8" y2="677" stroke="#000" stroke-width="4" stroke-linecap="butt"/>
<text transform="translate(1319.5 688.2) scale(1 1.05)" font-size="33" text-anchor="end">20</text>
<text transform="translate(1322.5 730.3) scale(1 1.05)" font-size="33" text-anchor="end">1</text>
<text transform="translate(1321.7 776.1) scale(1 1.05)" font-size="33" text-anchor="end">0</text>
<line x1="1368.8" y1="766.8" x2="1368.8" y2="780.6" stroke="#000" stroke-width="4.1" stroke-linecap="butt"/>
<text transform="translate(1380.1 784.2) rotate(-90) scale(1 1.06)" font-size="33.4" text-anchor="end">OMP 0.5%</text>
<line x1="1417.1" y1="766.8" x2="1417.1" y2="780.6" stroke="#000" stroke-width="4.1" stroke-linecap="butt"/>
<text transform="translate(1428.4 784.2) rotate(-90) scale(1 1.06)" font-size="33.4" text-anchor="end">Gγ8 0.5%</text>
<line x1="1465.4" y1="766.8" x2="1465.4" y2="780.6" stroke="#000" stroke-width="4.1" stroke-linecap="butt"/>
<text transform="translate(1476.7 784.2) rotate(-90) scale(1 1.06)" font-size="33.4" text-anchor="end">OMP 1%</text>
<line x1="1513.6" y1="766.8" x2="1513.6" y2="780.6" stroke="#000" stroke-width="4.1" stroke-linecap="butt"/>
<text transform="translate(1524.9 784.2) rotate(-90) scale(1 1.06)" font-size="33.4" text-anchor="end">Gγ8 1%</text>
<line x1="1561.9" y1="766.8" x2="1561.9" y2="780.6" stroke="#000" stroke-width="4.1" stroke-linecap="butt"/>
<text transform="translate(1573.2 784.2) rotate(-90) scale(1 1.06)" font-size="33.4" text-anchor="end">OMP 5%</text>
<line x1="1610.2" y1="766.8" x2="1610.2" y2="780.6" stroke="#000" stroke-width="4.1" stroke-linecap="butt"/>
<text transform="translate(1621.5 784.2) rotate(-90) scale(1 1.06)" font-size="33.4" text-anchor="end">Gγ8 5%</text>
<line x1="1658.5" y1="766.8" x2="1658.5" y2="780.6" stroke="#000" stroke-width="4.1" stroke-linecap="butt"/>
<text transform="translate(1669.8 784.2) rotate(-90) scale(1 1.06)" font-size="33.4" text-anchor="end">OMP 10%</text>
<line x1="1706.8" y1="766.8" x2="1706.8" y2="780.6" stroke="#000" stroke-width="4.1" stroke-linecap="butt"/>
<text transform="translate(1718.1 784.2) rotate(-90) scale(1 1.06)" font-size="33.4" text-anchor="end">Gγ8 10%</text>
<circle cx="1358.3" cy="764.8" r="5.25" fill="#FF800E"/>
<circle cx="1361.3" cy="764.8" r="5.25" fill="#FF800E"/>
<circle cx="1364.3" cy="764.8" r="5.25" fill="#FF800E"/>
<circle cx="1367.3" cy="764.8" r="5.25" fill="#FF800E"/>
<circle cx="1370.3" cy="764.8" r="5.25" fill="#FF800E"/>
<circle cx="1373.3" cy="764.8" r="5.25" fill="#FF800E"/>
<circle cx="1376.3" cy="764.8" r="5.25" fill="#FF800E"/>
<circle cx="1379.3" cy="764.8" r="5.25" fill="#FF800E"/>
<circle cx="1368.8" cy="564.6" r="5.25" fill="#FF800E"/>
<circle cx="1368.8" cy="603.3" r="5.25" fill="#FF800E"/>
<circle cx="1368.8" cy="628.5" r="5.25" fill="#FF800E"/>
<circle cx="1370.3" cy="647.2" r="5.25" fill="#FF800E"/>
<circle cx="1367.9" cy="656.9" r="5.25" fill="#FF800E"/>
<circle cx="1368.8" cy="660.9" r="5.25" fill="#FF800E"/>
<circle cx="1369.7" cy="699.3" r="5.25" fill="#FF800E"/>
<circle cx="1368.3" cy="707.5" r="5.25" fill="#FF800E"/>
<circle cx="1369.2" cy="712" r="5.25" fill="#FF800E"/>
<circle cx="1368.8" cy="717" r="5.25" fill="#FF800E"/>
<circle cx="1406.6" cy="764.8" r="5.25" fill="#6666FF"/>
<circle cx="1409.6" cy="764.8" r="5.25" fill="#6666FF"/>
<circle cx="1412.6" cy="764.8" r="5.25" fill="#6666FF"/>
<circle cx="1415.6" cy="764.8" r="5.25" fill="#6666FF"/>
<circle cx="1418.6" cy="764.8" r="5.25" fill="#6666FF"/>
<circle cx="1421.6" cy="764.8" r="5.25" fill="#6666FF"/>
<circle cx="1424.6" cy="764.8" r="5.25" fill="#6666FF"/>
<circle cx="1427.6" cy="764.8" r="5.25" fill="#6666FF"/>
<circle cx="1417.1" cy="574.1" r="5.25" fill="#6666FF"/>
<circle cx="1417.1" cy="601.5" r="5.25" fill="#6666FF"/>
<circle cx="1417.1" cy="684.3" r="5.25" fill="#6666FF"/>
<circle cx="1417.1" cy="694.7" r="5.25" fill="#6666FF"/>
<circle cx="1417.1" cy="703.3" r="5.25" fill="#6666FF"/>
<circle cx="1417.1" cy="713" r="5.25" fill="#6666FF"/>
<rect x="1449.9" y="759.5" width="10.6" height="10.6" fill="#FF800E"/>
<rect x="1452.8" y="759.5" width="10.6" height="10.6" fill="#FF800E"/>
<rect x="1455.7" y="759.5" width="10.6" height="10.6" fill="#FF800E"/>
<rect x="1458.6" y="759.5" width="10.6" height="10.6" fill="#FF800E"/>
<rect x="1461.5" y="759.5" width="10.6" height="10.6" fill="#FF800E"/>
<rect x="1464.4" y="759.5" width="10.6" height="10.6" fill="#FF800E"/>
<rect x="1467.3" y="759.5" width="10.6" height="10.6" fill="#FF800E"/>
<rect x="1470.3" y="759.5" width="10.6" height="10.6" fill="#FF800E"/>
<rect x="1460.1" y="550" width="10.6" height="10.6" fill="#FF800E"/>
<rect x="1461" y="555.1" width="10.6" height="10.6" fill="#FF800E"/>
<rect x="1460.1" y="560.9" width="10.6" height="10.6" fill="#FF800E"/>
<rect x="1460.1" y="602.6" width="10.6" height="10.6" fill="#FF800E"/>
<rect x="1461" y="618.1" width="10.6" height="10.6" fill="#FF800E"/>
<rect x="1460.1" y="620.9" width="10.6" height="10.6" fill="#FF800E"/>
<rect x="1459.5" y="625.4" width="10.6" height="10.6" fill="#FF800E"/>
<rect x="1460.1" y="641.9" width="10.6" height="10.6" fill="#FF800E"/>
<rect x="1461.5" y="655.6" width="10.6" height="10.6" fill="#FF800E"/>
<rect x="1459.1" y="659.2" width="10.6" height="10.6" fill="#FF800E"/>
<rect x="1460.1" y="680.3" width="10.6" height="10.6" fill="#FF800E"/>
<rect x="1456.8" y="685.7" width="10.6" height="10.6" fill="#FF800E"/>
<rect x="1463.3" y="685.7" width="10.6" height="10.6" fill="#FF800E"/>
<rect x="1460.1" y="689.4" width="10.6" height="10.6" fill="#FF800E"/>
<rect x="1461.9" y="687.6" width="10.6" height="10.6" fill="#FF800E"/>
<rect x="1457.9" y="694" width="10.6" height="10.6" fill="#FF800E"/>
<rect x="1462.3" y="694" width="10.6" height="10.6" fill="#FF800E"/>
<rect x="1458.2" y="703.1" width="10.6" height="10.6" fill="#FF800E"/>
<rect x="1461.9" y="703.1" width="10.6" height="10.6" fill="#FF800E"/>
<rect x="1460.1" y="707.7" width="10.6" height="10.6" fill="#FF800E"/>
<rect x="1498.1" y="759.5" width="10.6" height="10.6" fill="#6666FF"/>
<rect x="1501.1" y="759.5" width="10.6" height="10.6" fill="#6666FF"/>
<rect x="1504" y="759.5" width="10.6" height="10.6" fill="#6666FF"/>
<rect x="1506.9" y="759.5" width="10.6" height="10.6" fill="#6666FF"/>
<rect x="1509.8" y="759.5" width="10.6" height="10.6" fill="#6666FF"/>
<rect x="1512.7" y="759.5" width="10.6" height="10.6" fill="#6666FF"/>
<rect x="1515.6" y="759.5" width="10.6" height="10.6" fill="#6666FF"/>
<rect x="1518.5" y="759.5" width="10.6" height="10.6" fill="#6666FF"/>
<rect x="1508.3" y="513.1" width="10.6" height="10.6" fill="#6666FF"/>
<rect x="1508.3" y="531.3" width="10.6" height="10.6" fill="#6666FF"/>
<rect x="1508.3" y="583.4" width="10.6" height="10.6" fill="#6666FF"/>
<rect x="1508.3" y="623.6" width="10.6" height="10.6" fill="#6666FF"/>
<rect x="1508.3" y="642.2" width="10.6" height="10.6" fill="#6666FF"/>
<rect x="1508.3" y="661.1" width="10.6" height="10.6" fill="#6666FF"/>
<rect x="1508.3" y="672" width="10.6" height="10.6" fill="#6666FF"/>
<rect x="1508.3" y="677.5" width="10.6" height="10.6" fill="#6666FF"/>
<rect x="1508.3" y="683" width="10.6" height="10.6" fill="#6666FF"/>
<rect x="1508.3" y="688.5" width="10.6" height="10.6" fill="#6666FF"/>
<rect x="1508.3" y="694" width="10.6" height="10.6" fill="#6666FF"/>
<rect x="1507.2" y="697.6" width="10.6" height="10.6" fill="#6666FF"/>
<rect x="1509.4" y="697.6" width="10.6" height="10.6" fill="#6666FF"/>
<rect x="1508.3" y="703.1" width="10.6" height="10.6" fill="#6666FF"/>
<rect x="1508.3" y="707.7" width="10.6" height="10.6" fill="#6666FF"/>
<path d="M1545.8 771.6L1559.2 771.6L1552.5 758.8Z" fill="#FF800E"/>
<path d="M1548.5 771.6L1561.9 771.6L1555.2 758.8Z" fill="#FF800E"/>
<path d="M1551.2 771.6L1564.6 771.6L1557.9 758.8Z" fill="#FF800E"/>
<path d="M1553.9 771.6L1567.3 771.6L1560.6 758.8Z" fill="#FF800E"/>
<path d="M1556.6 771.6L1570 771.6L1563.3 758.8Z" fill="#FF800E"/>
<path d="M1559.2 771.6L1572.6 771.6L1565.9 758.8Z" fill="#FF800E"/>
<path d="M1561.9 771.6L1575.3 771.6L1568.6 758.8Z" fill="#FF800E"/>
<path d="M1564.6 771.6L1578 771.6L1571.3 758.8Z" fill="#FF800E"/>
<path d="M1555.2 525.3L1568.6 525.3L1561.9 512.5Z" fill="#FF800E"/>
<path d="M1555.2 551.3L1568.6 551.3L1561.9 538.5Z" fill="#FF800E"/>
<path d="M1555.2 566.2L1568.6 566.2L1561.9 553.4Z" fill="#FF800E"/>
<path d="M1555.2 594.2L1568.6 594.2L1561.9 581.4Z" fill="#FF800E"/>
<path d="M1555.2 612.5L1568.6 612.5L1561.9 599.7Z" fill="#FF800E"/>
<path d="M1553 616.5L1566.4 616.5L1559.7 603.7Z" fill="#FF800E"/>
<path d="M1557.4 616.5L1570.8 616.5L1564.1 603.7Z" fill="#FF800E"/>
<path d="M1555.2 630.7L1568.6 630.7L1561.9 617.9Z" fill="#FF800E"/>
<path d="M1553 637.7L1566.4 637.7L1559.7 624.9Z" fill="#FF800E"/>
<path d="M1557.4 637.7L1570.8 637.7L1564.1 624.9Z" fill="#FF800E"/>
<path d="M1555.2 645.4L1568.6 645.4L1561.9 632.6Z" fill="#FF800E"/>
<path d="M1554.1 651.8L1567.5 651.8L1560.8 639Z" fill="#FF800E"/>
<path d="M1556.3 658.2L1569.7 658.2L1563 645.4Z" fill="#FF800E"/>
<path d="M1555.2 669.1L1568.6 669.1L1561.9 656.3Z" fill="#FF800E"/>
<path d="M1555.2 676.4L1568.6 676.4L1561.9 663.6Z" fill="#FF800E"/>
<path d="M1553 682.8L1566.4 682.8L1559.7 670Z" fill="#FF800E"/>
<path d="M1557.4 682.8L1570.8 682.8L1564.1 670Z" fill="#FF800E"/>
<path d="M1555.2 689.2L1568.6 689.2L1561.9 676.4Z" fill="#FF800E"/>
<path d="M1556.7 696.5L1570.1 696.5L1563.4 683.7Z" fill="#FF800E"/>
<path d="M1553 702.9L1566.4 702.9L1559.7 690.1Z" fill="#FF800E"/>
<path d="M1557.4 702.9L1570.8 702.9L1564.1 690.1Z" fill="#FF800E"/>
<path d="M1555.2 716.6L1568.6 716.6L1561.9 703.8Z" fill="#FF800E"/>
<path d="M1553 723.9L1566.4 723.9L1559.7 711.1Z" fill="#FF800E"/>
<path d="M1557.4 723.9L1570.8 723.9L1564.1 711.1Z" fill="#FF800E"/>
<path d="M1594.1 771.6L1607.5 771.6L1600.8 758.8Z" fill="#6666FF"/>
<path d="M1596.8 771.6L1610.2 771.6L1603.5 758.8Z" fill="#6666FF"/>
<path d="M1599.5 771.6L1612.9 771.6L1606.2 758.8Z" fill="#6666FF"/>
<path d="M1602.2 771.6L1615.6 771.6L1608.9 758.8Z" fill="#6666FF"/>
<path d="M1604.8 771.6L1618.2 771.6L1611.5 758.8Z" fill="#6666FF"/>
<path d="M1607.5 771.6L1620.9 771.6L1614.2 758.8Z" fill="#6666FF"/>
<path d="M1610.2 771.6L1623.6 771.6L1616.9 758.8Z" fill="#6666FF"/>
<path d="M1612.9 771.6L1626.3 771.6L1619.6 758.8Z" fill="#6666FF"/>
<path d="M1603.5 506.9L1616.9 506.9L1610.2 494.1Z" fill="#6666FF"/>
<path d="M1603.5 525.3L1616.9 525.3L1610.2 512.5Z" fill="#6666FF"/>
<path d="M1603.5 542.5L1616.9 542.5L1610.2 529.7Z" fill="#6666FF"/>
<path d="M1603.5 599.1L1616.9 599.1L1610.2 586.3Z" fill="#6666FF"/>
<path d="M1603.5 617.4L1616.9 617.4L1610.2 604.6Z" fill="#6666FF"/>
<path d="M1603.5 630.7L1616.9 630.7L1610.2 617.9Z" fill="#6666FF"/>
<path d="M1602.6 636.2L1616 636.2L1609.3 623.4Z" fill="#6666FF"/>
<path d="M1604.4 636.2L1617.8 636.2L1611.1 623.4Z" fill="#6666FF"/>
<path d="M1603.5 647.2L1616.9 647.2L1610.2 634.4Z" fill="#6666FF"/>
<path d="M1603.5 654.5L1616.9 654.5L1610.2 641.7Z" fill="#6666FF"/>
<path d="M1603.5 660L1616.9 660L1610.2 647.2Z" fill="#6666FF"/>
<path d="M1602.6 664.5L1616 664.5L1609.3 651.7Z" fill="#6666FF"/>
<path d="M1604.4 664.5L1617.8 664.5L1611.1 651.7Z" fill="#6666FF"/>
<path d="M1603.5 679.2L1616.9 679.2L1610.2 666.4Z" fill="#6666FF"/>
<path d="M1603.5 702L1616.9 702L1610.2 689.2Z" fill="#6666FF"/>
<path d="M1603.5 714.8L1616.9 714.8L1610.2 702Z" fill="#6666FF"/>
<path d="M1603.5 721.2L1616.9 721.2L1610.2 708.4Z" fill="#6666FF"/>
<path d="M1642.9 764.8L1649.8 757.9L1656.7 764.8L1649.8 771.7Z" fill="#FF800E"/>
<path d="M1645.4 764.8L1652.3 757.9L1659.2 764.8L1652.3 771.7Z" fill="#FF800E"/>
<path d="M1647.9 764.8L1654.8 757.9L1661.7 764.8L1654.8 771.7Z" fill="#FF800E"/>
<path d="M1650.3 764.8L1657.2 757.9L1664.1 764.8L1657.2 771.7Z" fill="#FF800E"/>
<path d="M1652.8 764.8L1659.7 757.9L1666.6 764.8L1659.7 771.7Z" fill="#FF800E"/>
<path d="M1655.3 764.8L1662.2 757.9L1669.1 764.8L1662.2 771.7Z" fill="#FF800E"/>
<path d="M1657.8 764.8L1664.7 757.9L1671.6 764.8L1664.7 771.7Z" fill="#FF800E"/>
<path d="M1660.3 764.8L1667.2 757.9L1674.1 764.8L1667.2 771.7Z" fill="#FF800E"/>
<path d="M1651.6 508.9L1658.5 502L1665.4 508.9L1658.5 515.8Z" fill="#FF800E"/>
<path d="M1651.6 537L1658.5 530.1L1665.4 537L1658.5 543.9Z" fill="#FF800E"/>
<path d="M1651.6 573.2L1658.5 566.3L1665.4 573.2L1658.5 580.1Z" fill="#FF800E"/>
<path d="M1650.7 586L1657.6 579.1L1664.5 586L1657.6 592.9Z" fill="#FF800E"/>
<path d="M1652.5 590.5L1659.4 583.6L1666.3 590.5L1659.4 597.4Z" fill="#FF800E"/>
<path d="M1650.7 600.6L1657.6 593.7L1664.5 600.6L1657.6 607.5Z" fill="#FF800E"/>
<path d="M1652.5 610.6L1659.4 603.7L1666.3 610.6L1659.4 617.5Z" fill="#FF800E"/>
<path d="M1651.6 616.1L1658.5 609.2L1665.4 616.1L1658.5 623Z" fill="#FF800E"/>
<path d="M1648.8 620.7L1655.7 613.8L1662.6 620.7L1655.7 627.6Z" fill="#FF800E"/>
<path d="M1654.3 623.4L1661.2 616.5L1668.1 623.4L1661.2 630.3Z" fill="#FF800E"/>
<path d="M1651.6 625.3L1658.5 618.4L1665.4 625.3L1658.5 632.2Z" fill="#FF800E"/>
<path d="M1651.6 634.4L1658.5 627.5L1665.4 634.4L1658.5 641.3Z" fill="#FF800E"/>
<path d="M1650.7 665.5L1657.6 658.6L1664.5 665.5L1657.6 672.4Z" fill="#FF800E"/>
<path d="M1652.5 670L1659.4 663.1L1666.3 670L1659.4 676.9Z" fill="#FF800E"/>
<path d="M1651.6 681L1658.5 674.1L1665.4 681L1658.5 687.9Z" fill="#FF800E"/>
<path d="M1653.4 693.8L1660.3 686.9L1667.2 693.8L1660.3 700.7Z" fill="#FF800E"/>
<path d="M1649.8 697.4L1656.7 690.5L1663.6 697.4L1656.7 704.3Z" fill="#FF800E"/>
<path d="M1651.6 704.7L1658.5 697.8L1665.4 704.7L1658.5 711.6Z" fill="#FF800E"/>
<path d="M1649.4 709.9L1656.3 703L1663.2 709.9L1656.3 716.8Z" fill="#FF800E"/>
<path d="M1653.8 711.1L1660.7 704.2L1667.6 711.1L1660.7 718Z" fill="#FF800E"/>
<path d="M1651.6 712L1658.5 705.1L1665.4 712L1658.5 718.9Z" fill="#FF800E"/>
<path d="M1691.2 764.8L1698.1 757.9L1705 764.8L1698.1 771.7Z" fill="#6666FF"/>
<path d="M1693.6 764.8L1700.5 757.9L1707.4 764.8L1700.5 771.7Z" fill="#6666FF"/>
<path d="M1696.1 764.8L1703 757.9L1709.9 764.8L1703 771.7Z" fill="#6666FF"/>
<path d="M1698.6 764.8L1705.5 757.9L1712.4 764.8L1705.5 771.7Z" fill="#6666FF"/>
<path d="M1701.1 764.8L1708 757.9L1714.9 764.8L1708 771.7Z" fill="#6666FF"/>
<path d="M1703.6 764.8L1710.5 757.9L1717.4 764.8L1710.5 771.7Z" fill="#6666FF"/>
<path d="M1706.1 764.8L1713 757.9L1719.9 764.8L1713 771.7Z" fill="#6666FF"/>
<path d="M1708.6 764.8L1715.5 757.9L1722.4 764.8L1715.5 771.7Z" fill="#6666FF"/>
<path d="M1699.9 499.7L1706.8 492.8L1713.7 499.7L1706.8 506.6Z" fill="#6666FF"/>
<path d="M1699.9 518.4L1706.8 511.5L1713.7 518.4L1706.8 525.3Z" fill="#6666FF"/>
<path d="M1699.9 535.7L1706.8 528.8L1713.7 535.7L1706.8 542.6Z" fill="#6666FF"/>
<path d="M1699.9 545.8L1706.8 538.9L1713.7 545.8L1706.8 552.7Z" fill="#6666FF"/>
<path d="M1699.9 562.2L1706.8 555.3L1713.7 562.2L1706.8 569.1Z" fill="#6666FF"/>
<path d="M1700.8 571.4L1707.7 564.5L1714.6 571.4L1707.7 578.3Z" fill="#6666FF"/>
<path d="M1698.9 573.6L1705.8 566.7L1712.7 573.6L1705.8 580.5Z" fill="#6666FF"/>
<path d="M1699.9 591.8L1706.8 584.9L1713.7 591.8L1706.8 598.7Z" fill="#6666FF"/>
<path d="M1699.9 610.6L1706.8 603.7L1713.7 610.6L1706.8 617.5Z" fill="#6666FF"/>
<path d="M1699.9 629.5L1706.8 622.6L1713.7 629.5L1706.8 636.4Z" fill="#6666FF"/>
<path d="M1699.9 639L1706.8 632.1L1713.7 639L1706.8 645.9Z" fill="#6666FF"/>
<path d="M1699.3 641.7L1706.2 634.8L1713.1 641.7L1706.2 648.6Z" fill="#6666FF"/>
<path d="M1699.9 648.1L1706.8 641.2L1713.7 648.1L1706.8 655Z" fill="#6666FF"/>
<path d="M1699.9 681.9L1706.8 675L1713.7 681.9L1706.8 688.8Z" fill="#6666FF"/>
<path d="M1700.8 695.6L1707.7 688.7L1714.6 695.6L1707.7 702.5Z" fill="#6666FF"/>
<path d="M1700.8 702.9L1707.7 696L1714.6 702.9L1707.7 709.8Z" fill="#6666FF"/>
<path d="M1698.9 708.4L1705.8 701.5L1712.7 708.4L1705.8 715.3Z" fill="#6666FF"/>
<path d="M1699.9 713L1706.8 706.1L1713.7 713L1706.8 719.9Z" fill="#6666FF"/>
<line x1="1352.8" y1="764.8" x2="1384.8" y2="764.8" stroke="#000" stroke-width="3.7" stroke-linecap="butt"/>
<line x1="1401.1" y1="764.8" x2="1433.1" y2="764.8" stroke="#000" stroke-width="3.7" stroke-linecap="butt"/>
<line x1="1449.4" y1="703.3" x2="1481.4" y2="703.3" stroke="#000" stroke-width="3.8" stroke-linecap="butt"/>
<line x1="1497.6" y1="764.8" x2="1529.6" y2="764.8" stroke="#000" stroke-width="3.7" stroke-linecap="butt"/>
<line x1="1545.9" y1="675.1" x2="1577.9" y2="675.1" stroke="#000" stroke-width="3.8" stroke-linecap="butt"/>
<line x1="1594.2" y1="712.6" x2="1626.2" y2="712.6" stroke="#000" stroke-width="3.8" stroke-linecap="butt"/>
<line x1="1642.5" y1="675.1" x2="1674.5" y2="675.1" stroke="#000" stroke-width="3.8" stroke-linecap="butt"/>
<line x1="1690.8" y1="684.6" x2="1722.8" y2="684.6" stroke="#000" stroke-width="3.8" stroke-linecap="butt"/>
<text transform="translate(1210.4 576) rotate(-90)" font-size="32.5" text-anchor="middle">% glomeruli</text>
<text transform="translate(1249.2 576) rotate(-90)" font-size="32.5" text-anchor="middle">responding</text>
<text x="1178.2" y="404.5" font-size="44.5" text-anchor="start">e</text>
<rect x="259.3" y="1077.5" width="272.8" height="83.1" fill="#fff" stroke="#1a1a1a" stroke-width="1.6"/>
<circle cx="272.6" cy="1102.4" r="4.2" fill="#FF800E"/>
<path d="M267.2 1142.1L278 1142.1L272.6 1131.9Z" fill="#FF800E"/>
<rect x="422.9" y="1098.3" width="8.2" height="8.2" fill="#FF800E"/>
<path d="M421.6 1137L427 1131.6L432.4 1137L427 1142.4Z" fill="#FF800E"/>
<text transform="translate(303.2 1112.9) scale(1 1.05)" font-size="32.4" text-anchor="start">0.5%</text>
<text transform="translate(303.2 1146.9) scale(1 1.05)" font-size="32.4" text-anchor="start">5%</text>
<text transform="translate(457.5 1112.9) scale(1 1.05)" font-size="32.4" text-anchor="start">1%</text>
<text transform="translate(457.5 1146.9) scale(1 1.05)" font-size="32.4" text-anchor="start">10%</text>
<line x1="199.7" y1="1179.5" x2="199.7" y2="1450.7" stroke="#000" stroke-width="4.1" stroke-linecap="butt"/>
<line x1="185.6" y1="1448.7" x2="600.4" y2="1448.7" stroke="#000" stroke-width="4.0" stroke-linecap="butt"/>
<line x1="186.1" y1="1181.5" x2="199.7" y2="1181.5" stroke="#000" stroke-width="4.2" stroke-linecap="butt"/>
<text transform="translate(182.7 1191.7) scale(1 1.05)" font-size="33" text-anchor="end">1000</text>
<line x1="186.1" y1="1270.3" x2="199.7" y2="1270.3" stroke="#000" stroke-width="4.2" stroke-linecap="butt"/>
<text transform="translate(182.7 1280.5) scale(1 1.05)" font-size="33" text-anchor="end">100</text>
<line x1="186.1" y1="1359.5" x2="199.7" y2="1359.5" stroke="#000" stroke-width="4.2" stroke-linecap="butt"/>
<text transform="translate(182.7 1369.7) scale(1 1.05)" font-size="33" text-anchor="end">10</text>
<text transform="translate(182.7 1458.9) scale(1 1.05)" font-size="33" text-anchor="end">1</text>
<line x1="237" y1="1448.7" x2="237" y2="1462.8" stroke="#000" stroke-width="4.2" stroke-linecap="butt"/>
<text transform="translate(247.7 1465.4) rotate(-90)" font-size="33.5" text-anchor="end">Ethyl butyrate</text>
<line x1="318" y1="1448.7" x2="318" y2="1462.8" stroke="#000" stroke-width="4.2" stroke-linecap="butt"/>
<text transform="translate(328.7 1465.4) rotate(-90)" font-size="33.5" text-anchor="end">Isoamyl acetate</text>
<line x1="399.3" y1="1448.7" x2="399.3" y2="1462.8" stroke="#000" stroke-width="4.2" stroke-linecap="butt"/>
<text transform="translate(410 1465.4) rotate(-90)" font-size="33.5" text-anchor="end">Hexanal</text>
<line x1="480.5" y1="1448.7" x2="480.5" y2="1462.8" stroke="#000" stroke-width="4.2" stroke-linecap="butt"/>
<text transform="translate(491.2 1465.4) rotate(-90)" font-size="33.5" text-anchor="end">Propionic acid</text>
<line x1="561.8" y1="1448.7" x2="561.8" y2="1462.8" stroke="#000" stroke-width="4.2" stroke-linecap="butt"/>
<text transform="translate(572.5 1465.4) rotate(-90)" font-size="33.5" text-anchor="end">2-hexanone</text>
<circle cx="211" cy="1244.4" r="4.2" fill="#FF800E"/>
<circle cx="211" cy="1248" r="4.2" fill="#FF800E"/>
<circle cx="211" cy="1259.5" r="4.2" fill="#FF800E"/>
<circle cx="211" cy="1330.8" r="4.2" fill="#FF800E"/>
<rect x="224.2" y="1220.7" width="8.2" height="8.2" fill="#FF800E"/>
<rect x="224.2" y="1226.2" width="8.2" height="8.2" fill="#FF800E"/>
<rect x="224.2" y="1230.8" width="8.2" height="8.2" fill="#FF800E"/>
<rect x="224.2" y="1235.4" width="8.2" height="8.2" fill="#FF800E"/>
<rect x="224.2" y="1240.3" width="8.2" height="8.2" fill="#FF800E"/>
<rect x="224.2" y="1295.1" width="8.2" height="8.2" fill="#FF800E"/>
<path d="M240.3 1194.5L251.1 1194.5L245.7 1184.3Z" fill="#FF800E"/>
<path d="M240.3 1218.6L251.1 1218.6L245.7 1208.4Z" fill="#FF800E"/>
<path d="M240.3 1226.8L251.1 1226.8L245.7 1216.6Z" fill="#FF800E"/>
<path d="M240.3 1234.6L251.1 1234.6L245.7 1224.4Z" fill="#FF800E"/>
<path d="M240.3 1246.5L251.1 1246.5L245.7 1236.3Z" fill="#FF800E"/>
<path d="M257.6 1191.1L263 1185.7L268.4 1191.1L263 1196.5Z" fill="#FF800E"/>
<path d="M257.6 1212.1L263 1206.7L268.4 1212.1L263 1217.5Z" fill="#FF800E"/>
<path d="M257.6 1216.6L263 1211.2L268.4 1216.6L263 1222Z" fill="#FF800E"/>
<path d="M257.6 1233.1L263 1227.7L268.4 1233.1L263 1238.5Z" fill="#FF800E"/>
<path d="M257.6 1242.2L263 1236.8L268.4 1242.2L263 1247.6Z" fill="#FF800E"/>
<path d="M257.6 1314L263 1308.6L268.4 1314L263 1319.4Z" fill="#FF800E"/>
<circle cx="292" cy="1339.4" r="4.2" fill="#FF800E"/>
<circle cx="292" cy="1366.4" r="4.2" fill="#FF800E"/>
<circle cx="292" cy="1377" r="4.2" fill="#FF800E"/>
<rect x="305.2" y="1272.8" width="8.2" height="8.2" fill="#FF800E"/>
<rect x="305.2" y="1278.6" width="8.2" height="8.2" fill="#FF800E"/>
<rect x="305.2" y="1296.2" width="8.2" height="8.2" fill="#FF800E"/>
<rect x="305.2" y="1316.1" width="8.2" height="8.2" fill="#FF800E"/>
<rect x="305.2" y="1326.7" width="8.2" height="8.2" fill="#FF800E"/>
<rect x="305.2" y="1367.4" width="8.2" height="8.2" fill="#FF800E"/>
<rect x="305.2" y="1381.8" width="8.2" height="8.2" fill="#FF800E"/>
<path d="M321.3 1254.2L332.1 1254.2L326.7 1244Z" fill="#FF800E"/>
<path d="M321.3 1275.2L332.1 1275.2L326.7 1265Z" fill="#FF800E"/>
<path d="M321.3 1281.6L332.1 1281.6L326.7 1271.4Z" fill="#FF800E"/>
<path d="M321.3 1294.4L332.1 1294.4L326.7 1284.2Z" fill="#FF800E"/>
<path d="M321.3 1302.6L332.1 1302.6L326.7 1292.4Z" fill="#FF800E"/>
<path d="M321.3 1329.1L332.1 1329.1L326.7 1318.9Z" fill="#FF800E"/>
<path d="M321.3 1338.8L332.1 1338.8L326.7 1328.6Z" fill="#FF800E"/>
<path d="M338.6 1243.7L344 1238.3L349.4 1243.7L344 1249.1Z" fill="#FF800E"/>
<path d="M338.6 1261.4L344 1256L349.4 1261.4L344 1266.8Z" fill="#FF800E"/>
<path d="M338.6 1279.1L344 1273.7L349.4 1279.1L344 1284.5Z" fill="#FF800E"/>
<path d="M338.6 1297.5L344 1292.1L349.4 1297.5L344 1302.9Z" fill="#FF800E"/>
<path d="M338.6 1336.3L344 1330.9L349.4 1336.3L344 1341.7Z" fill="#FF800E"/>
<path d="M338.6 1339.9L344 1334.5L349.4 1339.9L344 1345.3Z" fill="#FF800E"/>
<circle cx="373.3" cy="1307.2" r="4.2" fill="#FF800E"/>
<circle cx="373.3" cy="1324.4" r="4.2" fill="#FF800E"/>
<circle cx="373.3" cy="1332.2" r="4.2" fill="#FF800E"/>
<circle cx="373.3" cy="1364.9" r="4.2" fill="#FF800E"/>
<rect x="386.5" y="1247.8" width="8.2" height="8.2" fill="#FF800E"/>
<rect x="386.5" y="1256" width="8.2" height="8.2" fill="#FF800E"/>
<rect x="386.5" y="1265.5" width="8.2" height="8.2" fill="#FF800E"/>
<rect x="386.5" y="1271" width="8.2" height="8.2" fill="#FF800E"/>
<path d="M402.6 1244.1L413.4 1244.1L408 1233.9Z" fill="#FF800E"/>
<path d="M402.6 1253.3L413.4 1253.3L408 1243.1Z" fill="#FF800E"/>
<path d="M402.6 1258.2L413.4 1258.2L408 1248Z" fill="#FF800E"/>
<path d="M402.6 1273.4L413.4 1273.4L408 1263.2Z" fill="#FF800E"/>
<path d="M419.9 1251.3L425.3 1245.9L430.7 1251.3L425.3 1256.7Z" fill="#FF800E"/>
<path d="M419.9 1259.5L425.3 1254.1L430.7 1259.5L425.3 1264.9Z" fill="#FF800E"/>
<path d="M419.9 1287.9L425.3 1282.5L430.7 1287.9L425.3 1293.3Z" fill="#FF800E"/>
<circle cx="454.5" cy="1356.3" r="4.2" fill="#FF800E"/>
<circle cx="454.5" cy="1367.9" r="4.2" fill="#FF800E"/>
<circle cx="454.5" cy="1380.6" r="4.2" fill="#FF800E"/>
<rect x="467.7" y="1284.3" width="8.2" height="8.2" fill="#FF800E"/>
<rect x="467.7" y="1340.4" width="8.2" height="8.2" fill="#FF800E"/>
<path d="M483.8 1288.9L494.6 1288.9L489.2 1278.7Z" fill="#FF800E"/>
<path d="M483.8 1313.2L494.6 1313.2L489.2 1303Z" fill="#FF800E"/>
<path d="M483.8 1355L494.6 1355L489.2 1344.8Z" fill="#FF800E"/>
<path d="M483.8 1363.8L494.6 1363.8L489.2 1353.6Z" fill="#FF800E"/>
<path d="M483.8 1379.3L494.6 1379.3L489.2 1369.1Z" fill="#FF800E"/>
<path d="M501.1 1254.6L506.5 1249.2L511.9 1254.6L506.5 1260Z" fill="#FF800E"/>
<path d="M501.1 1308.9L506.5 1303.5L511.9 1308.9L506.5 1314.3Z" fill="#FF800E"/>
<path d="M501.1 1338.3L506.5 1332.9L511.9 1338.3L506.5 1343.7Z" fill="#FF800E"/>
<path d="M501.1 1351.1L506.5 1345.7L511.9 1351.1L506.5 1356.5Z" fill="#FF800E"/>
<path d="M501.1 1366.4L506.5 1361L511.9 1366.4L506.5 1371.8Z" fill="#FF800E"/>
<circle cx="535.8" cy="1380.3" r="4.2" fill="#FF800E"/>
<rect x="549" y="1268.4" width="8.2" height="8.2" fill="#FF800E"/>
<rect x="549" y="1285.6" width="8.2" height="8.2" fill="#FF800E"/>
<rect x="549" y="1323.9" width="8.2" height="8.2" fill="#FF800E"/>
<rect x="549" y="1330.3" width="8.2" height="8.2" fill="#FF800E"/>
<path d="M565.1 1301.3L575.9 1301.3L570.5 1291.1Z" fill="#FF800E"/>
<path d="M565.1 1317.2L575.9 1317.2L570.5 1307Z" fill="#FF800E"/>
<path d="M565.1 1322.7L575.9 1322.7L570.5 1312.5Z" fill="#FF800E"/>
<path d="M565.1 1369.6L575.9 1369.6L570.5 1359.4Z" fill="#FF800E"/>
<path d="M582.4 1291.1L587.8 1285.7L593.2 1291.1L587.8 1296.5Z" fill="#FF800E"/>
<path d="M582.4 1303L587.8 1297.6L593.2 1303L587.8 1308.4Z" fill="#FF800E"/>
<path d="M582.4 1310.7L587.8 1305.3L593.2 1310.7L587.8 1316.1Z" fill="#FF800E"/>
<path d="M211.1 1270L246.3 1218.4L264.1 1220.3" fill="none" stroke="#000" stroke-width="4" stroke-linejoin="round" stroke-linecap="round"/>
<path d="M292.7 1390.5L309.7 1307L327.1 1280L345.7 1284.2" fill="none" stroke="#000" stroke-width="4" stroke-linejoin="round" stroke-linecap="round"/>
<path d="M374.2 1349L391.4 1274.2L408.8 1270.5L427.1 1284.2" fill="none" stroke="#000" stroke-width="4" stroke-linejoin="round" stroke-linecap="round"/>
<path d="M454.8 1400.2L473.1 1356.3L490.1 1331.7L508.4 1314.3" fill="none" stroke="#000" stroke-width="4" stroke-linejoin="round" stroke-linecap="round"/>
<path d="M536.7 1449.5L554 1319.8L571.2 1336.8L589.6 1319.8" fill="none" stroke="#000" stroke-width="4" stroke-linejoin="round" stroke-linecap="round"/>
<text transform="translate(102.1 1307.2) rotate(-90) scale(1 1.06)" font-size="32.5" text-anchor="middle">ΔF/F (%)</text>
<text x="0.6" y="1109" font-size="44.5" text-anchor="start">f</text>
<rect x="976" y="1073.3" width="272.5" height="83.6" fill="#fff" stroke="#1a1a1a" stroke-width="1.6"/>
<circle cx="989.6" cy="1098.3" r="4.2" fill="#6666FF"/>
<path d="M984.2 1138.1L995 1138.1L989.6 1127.9Z" fill="#6666FF"/>
<rect x="1139.3" y="1094.2" width="8.2" height="8.2" fill="#6666FF"/>
<path d="M1138 1133L1143.4 1127.6L1148.8 1133L1143.4 1138.4Z" fill="#6666FF"/>
<text transform="translate(1019.7 1108.7) scale(1 1.05)" font-size="32.4" text-anchor="start">0.5%</text>
<text transform="translate(1019.7 1142.9) scale(1 1.05)" font-size="32.4" text-anchor="start">5%</text>
<text transform="translate(1174.3 1108.7) scale(1 1.05)" font-size="32.4" text-anchor="start">1%</text>
<text transform="translate(1174.3 1142.9) scale(1 1.05)" font-size="32.4" text-anchor="start">10%</text>
<line x1="916.1" y1="1175.6" x2="916.1" y2="1446.7" stroke="#000" stroke-width="4.1" stroke-linecap="butt"/>
<line x1="902.5" y1="1444.7" x2="1316.8" y2="1444.7" stroke="#000" stroke-width="4.0" stroke-linecap="butt"/>
<line x1="902.5" y1="1177.6" x2="916.1" y2="1177.6" stroke="#000" stroke-width="4.2" stroke-linecap="butt"/>
<text transform="translate(899.1 1188.2) scale(1 1.05)" font-size="33" text-anchor="end">1000</text>
<line x1="902.5" y1="1266.5" x2="916.1" y2="1266.5" stroke="#000" stroke-width="4.2" stroke-linecap="butt"/>
<text transform="translate(899.1 1277.1) scale(1 1.05)" font-size="33" text-anchor="end">100</text>
<line x1="902.5" y1="1355" x2="916.1" y2="1355" stroke="#000" stroke-width="4.2" stroke-linecap="butt"/>
<text transform="translate(899.1 1365.6) scale(1 1.05)" font-size="33" text-anchor="end">10</text>
<text transform="translate(899.1 1455.3) scale(1 1.05)" font-size="33" text-anchor="end">1</text>
<line x1="953.7" y1="1444.7" x2="953.7" y2="1459" stroke="#000" stroke-width="4.2" stroke-linecap="butt"/>
<text transform="translate(964.9 1461.5) rotate(-90)" font-size="33.5" text-anchor="end">Ethyl butyrate</text>
<line x1="1035" y1="1444.7" x2="1035" y2="1459" stroke="#000" stroke-width="4.2" stroke-linecap="butt"/>
<text transform="translate(1046.2 1461.5) rotate(-90)" font-size="33.5" text-anchor="end">Isoamyl acetate</text>
<line x1="1116.3" y1="1444.7" x2="1116.3" y2="1459" stroke="#000" stroke-width="4.2" stroke-linecap="butt"/>
<text transform="translate(1127.5 1461.5) rotate(-90)" font-size="33.5" text-anchor="end">Hexanal</text>
<line x1="1197.7" y1="1444.7" x2="1197.7" y2="1459" stroke="#000" stroke-width="4.2" stroke-linecap="butt"/>
<text transform="translate(1208.9 1461.5) rotate(-90)" font-size="33.5" text-anchor="end">Propionic acid</text>
<line x1="1279" y1="1444.7" x2="1279" y2="1459" stroke="#000" stroke-width="4.2" stroke-linecap="butt"/>
<text transform="translate(1290.2 1461.5) rotate(-90)" font-size="33.5" text-anchor="end">2-hexanone</text>
<circle cx="927.1" cy="1307" r="4.2" fill="#6666FF"/>
<circle cx="928.3" cy="1309.8" r="4.2" fill="#6666FF"/>
<circle cx="927.7" cy="1335.3" r="4.2" fill="#6666FF"/>
<rect x="940.9" y="1249.4" width="8.2" height="8.2" fill="#6666FF"/>
<rect x="940.9" y="1255.4" width="8.2" height="8.2" fill="#6666FF"/>
<rect x="940.9" y="1265.9" width="8.2" height="8.2" fill="#6666FF"/>
<rect x="940.9" y="1304.6" width="8.2" height="8.2" fill="#6666FF"/>
<path d="M957 1225.5L967.8 1225.5L962.4 1215.3Z" fill="#6666FF"/>
<path d="M957 1241.4L967.8 1241.4L962.4 1231.2Z" fill="#6666FF"/>
<path d="M957 1248.7L967.8 1248.7L962.4 1238.5Z" fill="#6666FF"/>
<path d="M957 1282.5L967.8 1282.5L962.4 1272.3Z" fill="#6666FF"/>
<path d="M957 1305.3L967.8 1305.3L962.4 1295.1Z" fill="#6666FF"/>
<path d="M957 1314.5L967.8 1314.5L962.4 1304.3Z" fill="#6666FF"/>
<path d="M974.3 1214.2L979.7 1208.8L985.1 1214.2L979.7 1219.6Z" fill="#6666FF"/>
<path d="M974.3 1231.2L979.7 1225.8L985.1 1231.2L979.7 1236.6Z" fill="#6666FF"/>
<path d="M974.3 1238.5L979.7 1233.1L985.1 1238.5L979.7 1243.9Z" fill="#6666FF"/>
<path d="M974.3 1254.4L979.7 1249L985.1 1254.4L979.7 1259.8Z" fill="#6666FF"/>
<path d="M974.3 1269L979.7 1263.6L985.1 1269L979.7 1274.4Z" fill="#6666FF"/>
<path d="M974.3 1306.1L979.7 1300.7L985.1 1306.1L979.7 1311.5Z" fill="#6666FF"/>
<circle cx="1009" cy="1309.2" r="4.2" fill="#6666FF"/>
<circle cx="1009" cy="1370" r="4.2" fill="#6666FF"/>
<rect x="1022.2" y="1292" width="8.2" height="8.2" fill="#6666FF"/>
<rect x="1022.2" y="1313.9" width="8.2" height="8.2" fill="#6666FF"/>
<rect x="1022.2" y="1337.6" width="8.2" height="8.2" fill="#6666FF"/>
<path d="M1038.3 1277L1049.1 1277L1043.7 1266.8Z" fill="#6666FF"/>
<path d="M1038.3 1299.5L1049.1 1299.5L1043.7 1289.3Z" fill="#6666FF"/>
<path d="M1038.3 1315.4L1049.1 1315.4L1043.7 1305.2Z" fill="#6666FF"/>
<path d="M1055.6 1290.6L1061 1285.2L1066.4 1290.6L1061 1296Z" fill="#6666FF"/>
<path d="M1055.6 1296.1L1061 1290.7L1066.4 1296.1L1061 1301.5Z" fill="#6666FF"/>
<path d="M1055.6 1306.7L1061 1301.3L1066.4 1306.7L1061 1312.1Z" fill="#6666FF"/>
<path d="M1055.6 1310.7L1061 1305.3L1066.4 1310.7L1061 1316.1Z" fill="#6666FF"/>
<circle cx="1090.3" cy="1328" r="4.2" fill="#6666FF"/>
<circle cx="1090.3" cy="1385.6" r="4.2" fill="#6666FF"/>
<rect x="1103.5" y="1298" width="8.2" height="8.2" fill="#6666FF"/>
<rect x="1103.5" y="1321.6" width="8.2" height="8.2" fill="#6666FF"/>
<rect x="1103.5" y="1356.8" width="8.2" height="8.2" fill="#6666FF"/>
<path d="M1119.6 1299.8L1130.4 1299.8L1125 1289.6Z" fill="#6666FF"/>
<path d="M1119.6 1333.1L1130.4 1333.1L1125 1322.9Z" fill="#6666FF"/>
<path d="M1119.6 1339.5L1130.4 1339.5L1125 1329.3Z" fill="#6666FF"/>
<path d="M1136.9 1297.4L1142.3 1292L1147.7 1297.4L1142.3 1302.8Z" fill="#6666FF"/>
<path d="M1136.9 1308.9L1142.3 1303.5L1147.7 1308.9L1142.3 1314.3Z" fill="#6666FF"/>
<path d="M1136.9 1319.8L1142.3 1314.4L1147.7 1319.8L1142.3 1325.2Z" fill="#6666FF"/>
<path d="M1136.9 1348.1L1142.3 1342.7L1147.7 1348.1L1142.3 1353.5Z" fill="#6666FF"/>
<rect x="1184.9" y="1327.6" width="8.2" height="8.2" fill="#6666FF"/>
<rect x="1184.9" y="1332.7" width="8.2" height="8.2" fill="#6666FF"/>
<path d="M1201 1344.6L1211.8 1344.6L1206.4 1334.4Z" fill="#6666FF"/>
<path d="M1218.3 1312L1223.7 1306.6L1229.1 1312L1223.7 1317.4Z" fill="#6666FF"/>
<path d="M1218.3 1323.5L1223.7 1318.1L1229.1 1323.5L1223.7 1328.9Z" fill="#6666FF"/>
<path d="M1218.3 1383.7L1223.7 1378.3L1229.1 1383.7L1223.7 1389.1Z" fill="#6666FF"/>
<path d="M1218.3 1397.4L1223.7 1392L1229.1 1397.4L1223.7 1402.8Z" fill="#6666FF"/>
<circle cx="1253" cy="1310.5" r="4.2" fill="#6666FF"/>
<circle cx="1253" cy="1341.2" r="4.2" fill="#6666FF"/>
<circle cx="1253" cy="1360.9" r="4.2" fill="#6666FF"/>
<rect x="1266.2" y="1274.1" width="8.2" height="8.2" fill="#6666FF"/>
<rect x="1266.2" y="1292" width="8.2" height="8.2" fill="#6666FF"/>
<rect x="1266.2" y="1297.5" width="8.2" height="8.2" fill="#6666FF"/>
<rect x="1266.2" y="1302" width="8.2" height="8.2" fill="#6666FF"/>
<rect x="1266.2" y="1325.2" width="8.2" height="8.2" fill="#6666FF"/>
<path d="M1282.3 1262.8L1293.1 1262.8L1287.7 1252.6Z" fill="#6666FF"/>
<path d="M1282.3 1298.4L1293.1 1298.4L1287.7 1288.2Z" fill="#6666FF"/>
<path d="M1282.3 1318.1L1293.1 1318.1L1287.7 1307.9Z" fill="#6666FF"/>
<path d="M1282.3 1325.4L1293.1 1325.4L1287.7 1315.2Z" fill="#6666FF"/>
<path d="M1299.6 1250.4L1305 1245L1310.4 1250.4L1305 1255.8Z" fill="#6666FF"/>
<path d="M1299.6 1258.1L1305 1252.7L1310.4 1258.1L1305 1263.5Z" fill="#6666FF"/>
<path d="M1299.6 1278.7L1305 1273.3L1310.4 1278.7L1305 1284.1Z" fill="#6666FF"/>
<path d="M1299.6 1292.8L1305 1287.4L1310.4 1292.8L1305 1298.2Z" fill="#6666FF"/>
<path d="M1299.6 1315.3L1305 1309.9L1310.4 1315.3L1305 1320.7Z" fill="#6666FF"/>
<path d="M1299.6 1318L1305 1312.6L1310.4 1318L1305 1323.4Z" fill="#6666FF"/>
<path d="M927.4 1348.1L945.3 1288.8L962.5 1255.9L980.8 1248.2" fill="none" stroke="#000" stroke-width="4" stroke-linejoin="round" stroke-linecap="round"/>
<path d="M1009.1 1377L1043.8 1314.3L1062.6 1322" fill="none" stroke="#000" stroke-width="4" stroke-linejoin="round" stroke-linecap="round"/>
<path d="M1090.4 1395.6L1107.7 1355.1L1143.8 1335.7" fill="none" stroke="#000" stroke-width="4" stroke-linejoin="round" stroke-linecap="round"/>
<path d="M1174.8 1434L1189.8 1382.5L1207.2 1413.3L1224.7 1359.5" fill="none" stroke="#000" stroke-width="4" stroke-linejoin="round" stroke-linecap="round"/>
<path d="M1253.6 1364.9L1270.7 1313.1L1288.1 1308.3L1306.3 1282.4" fill="none" stroke="#000" stroke-width="4" stroke-linejoin="round" stroke-linecap="round"/>
<text transform="translate(818.6 1303.8) rotate(-90) scale(1 1.06)" font-size="32.5" text-anchor="middle">ΔF/F (%)</text>
<text x="718.4" y="1104" font-size="44.5" text-anchor="start">g</text>
<rect x="338.6" y="1525.0" width="2.4" height="1.0" fill="#cfcfcf"/>
<rect x="378.8" y="1558.7" width="2.6" height="1.0" fill="#d6d6d6"/>
<rect x="384.6" y="1558.7" width="3.0" height="1.0" fill="#c4c4c4"/>
<rect x="496.9" y="1522.0" width="3.8" height="1.5" fill="#8a8a8a"/>
<rect x="523.0" y="1543.5" width="2.4" height="1.1" fill="#c2c2c2"/>
</svg>
</body>
</html>
